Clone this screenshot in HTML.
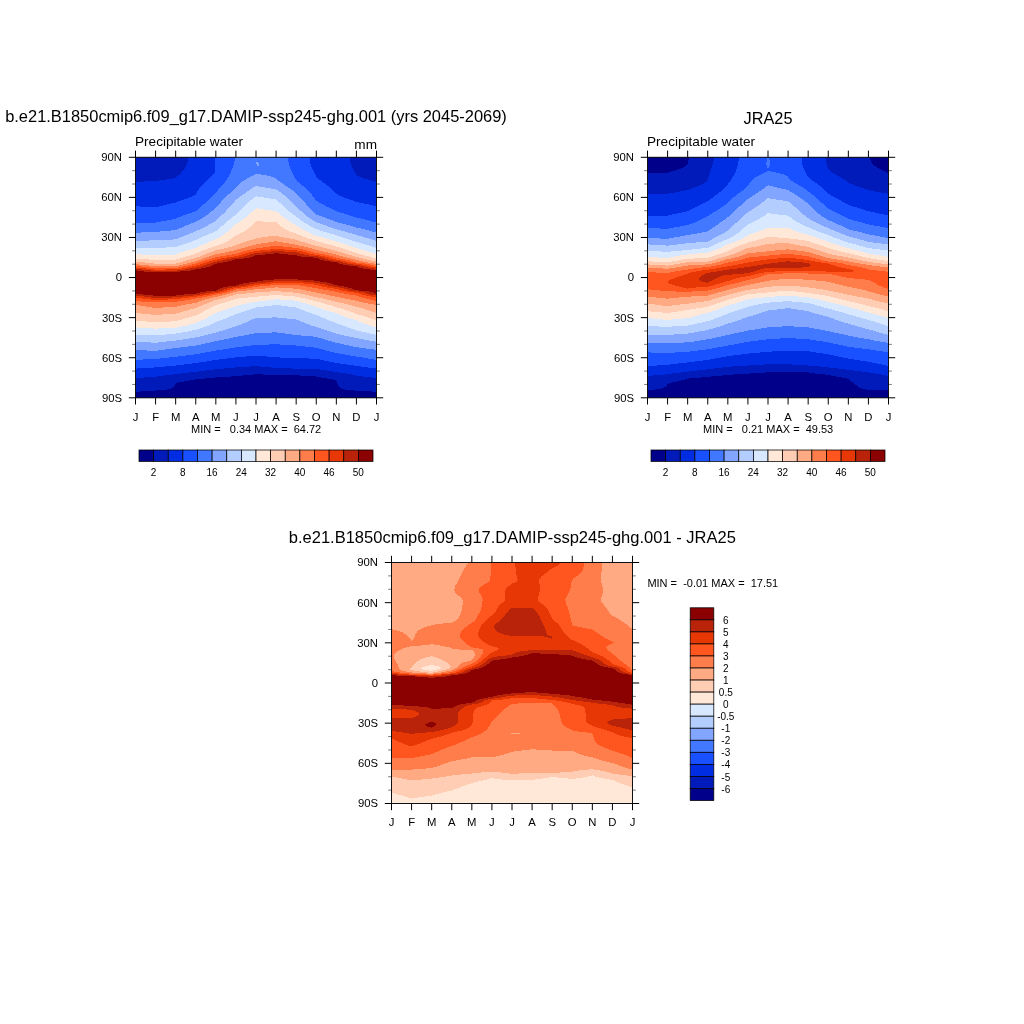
<!DOCTYPE html>
<html><head><meta charset="utf-8"><title>Precipitable water</title>
<style>
html,body{margin:0;padding:0;background:#fff}
svg{display:block}
text{font-family:"Liberation Sans",sans-serif;fill:#000}
.t9{font-size:10px}.t10{font-size:11px}.t10a{font-size:11.3px}.t13{font-size:13.6px}.t14{font-size:16.45px}.t15{font-size:16.3px}.t15b{font-size:16.52px}
</style></head><body>
<svg width="1024" height="1024" viewBox="0 0 1024 1024">
<rect width="1024" height="1024" fill="#fff"/>
<g shape-rendering="crispEdges"><path fill="#00008b" d="M254 374h9v1h-9zM243 375h57v1h-57zM231 376h85v1h-85zM215 377h106v1h-106zM205 378h122v1h-122zM195 379h138v1h-138zM190 380h146v1h-146zM184 381h153v1h-153zM178 382h159v1h-159zM176 383h161v1h-161zM175 384h163v2h-163zM174 386h165v1h-165zM173 387h167v1h-167zM171 388h171v1h-171zM167 389h178v1h-178zM156 390h198v1h-198zM140 391h232v1h-232zM135 392h242v6h-242z"/>
<path fill="#001bb9" d="M135 157h53v5h-53zM350 157h27v6h-27zM135 162h52v3h-52zM351 163h26v3h-26zM135 165h51v2h-51zM352 166h25v2h-25zM135 167h50v2h-50zM135 169h49v1h-49zM353 168h24v2h-24zM135 170h48v1h-48zM135 171h47v1h-47zM354 170h23v2h-23zM355 172h22v1h-22zM135 172h46v2h-46zM135 174h45v1h-45zM356 173h21v2h-21zM135 175h43v1h-43zM357 175h20v1h-20zM135 176h42v1h-42zM359 176h18v1h-18zM135 177h41v1h-41zM362 177h15v1h-15zM135 178h38v1h-38zM364 178h13v1h-13zM135 179h31v1h-31zM368 179h9v1h-9zM135 180h24v1h-24zM371 180h6v1h-6zM135 181h9v1h-9zM375 181h2v1h-2zM250 366h10v1h-10zM235 367h36v1h-36zM224 368h68v1h-68zM214 369h106v1h-106zM206 370h121v1h-121zM198 371h135v1h-135zM189 372h150v1h-150zM181 373h165v1h-165zM173 374h81v1h-81zM263 374h89v1h-89zM164 375h79v1h-79zM300 375h56v1h-56zM157 376h74v1h-74zM316 376h47v1h-47zM144 377h71v1h-71zM321 377h51v1h-51zM135 378h70v1h-70zM327 378h50v1h-50zM135 379h60v1h-60zM333 379h44v1h-44zM135 380h55v1h-55zM336 380h41v1h-41zM135 381h49v1h-49zM135 382h43v1h-43zM135 383h41v1h-41zM337 381h40v3h-40zM135 384h40v2h-40zM338 384h39v2h-39zM135 386h39v1h-39zM339 386h38v1h-38zM135 387h38v1h-38zM340 387h37v1h-37zM135 388h36v1h-36zM342 388h35v1h-35zM135 389h32v1h-32zM345 389h32v1h-32zM135 390h21v1h-21zM354 390h23v1h-23zM135 391h5v1h-5zM372 391h5v1h-5z"/>
<path fill="#002de1" d="M188 157h26v1h-26zM188 158h27v4h-27zM310 157h40v6h-40zM310 163h41v1h-41zM187 162h28v3h-28zM311 164h40v2h-40zM186 165h29v2h-29zM311 166h41v1h-41zM312 167h40v1h-40zM185 167h30v2h-30zM312 168h41v1h-41zM184 169h31v1h-31zM313 169h40v1h-40zM183 170h32v1h-32zM313 170h41v1h-41zM182 171h33v1h-33zM314 171h40v1h-40zM181 172h34v1h-34zM314 172h41v1h-41zM181 173h33v1h-33zM180 174h33v1h-33zM315 173h41v2h-41zM178 175h34v1h-34zM316 175h41v1h-41zM177 176h34v1h-34zM316 176h43v1h-43zM176 177h34v1h-34zM317 177h45v1h-45zM173 178h36v1h-36zM318 178h46v1h-46zM166 179h42v1h-42zM319 179h49v1h-49zM159 180h48v1h-48zM321 180h50v1h-50zM144 181h62v1h-62zM322 181h53v1h-53zM135 182h70v1h-70zM323 182h54v1h-54zM135 183h69v1h-69zM325 183h52v1h-52zM135 184h68v1h-68zM326 184h51v1h-51zM135 185h67v1h-67zM327 185h50v1h-50zM135 186h66v1h-66zM329 186h48v1h-48zM135 187h65v1h-65zM330 187h47v1h-47zM331 188h46v1h-46zM135 188h64v2h-64zM332 189h45v1h-45zM135 190h63v1h-63zM333 190h44v1h-44zM334 191h43v1h-43zM135 191h62v2h-62zM335 192h42v1h-42zM336 193h41v1h-41zM135 193h61v2h-61zM338 194h39v1h-39zM135 195h59v1h-59zM339 195h38v1h-38zM135 196h57v1h-57zM342 196h35v1h-35zM135 197h54v1h-54zM344 197h33v1h-33zM135 198h52v1h-52zM347 198h30v1h-30zM135 199h49v1h-49zM350 199h27v1h-27zM135 200h46v1h-46zM353 200h24v1h-24zM135 201h43v1h-43zM355 201h22v1h-22zM135 202h41v1h-41zM359 202h18v1h-18zM135 203h36v1h-36zM364 203h13v1h-13zM135 204h32v1h-32zM369 204h8v1h-8zM135 205h28v1h-28zM373 205h4v1h-4zM140 206h19v1h-19zM246 356h21v1h-21zM235 357h45v1h-45zM227 358h82v1h-82zM219 359h101v1h-101zM212 360h112v1h-112zM206 361h123v1h-123zM199 362h135v1h-135zM192 363h148v1h-148zM184 364h163v1h-163zM176 365h178v1h-178zM165 366h85v1h-85zM260 366h101v1h-101zM154 367h81v1h-81zM271 367h97v1h-97zM137 368h87v1h-87zM292 368h84v1h-84zM135 369h79v1h-79zM320 369h57v1h-57zM135 370h71v1h-71zM327 370h50v1h-50zM135 371h63v1h-63zM333 371h44v1h-44zM135 372h54v1h-54zM339 372h38v1h-38zM135 373h46v1h-46zM346 373h31v1h-31zM135 374h38v1h-38zM352 374h25v1h-25zM135 375h29v1h-29zM356 375h21v1h-21zM135 376h22v1h-22zM363 376h14v1h-14zM135 377h9v1h-9zM372 377h5v1h-5z"/>
<path fill="#1950ff" d="M214 157h21v1h-21zM215 158h20v3h-20zM288 157h22v5h-22zM289 162h21v2h-21zM215 161h19v4h-19zM289 164h22v2h-22zM290 166h21v1h-21zM215 165h18v3h-18zM290 167h22v2h-22zM215 168h17v2h-17zM291 169h22v2h-22zM215 170h16v3h-16zM292 171h22v2h-22zM214 173h16v1h-16zM213 174h17v1h-17zM293 173h22v2h-22zM212 175h17v1h-17zM211 176h18v1h-18zM294 175h22v2h-22zM210 177h18v1h-18zM295 177h22v1h-22zM209 178h18v1h-18zM295 178h23v1h-23zM208 179h19v1h-19zM296 179h23v1h-23zM207 180h19v1h-19zM297 180h24v1h-24zM206 181h19v1h-19zM297 181h25v1h-25zM205 182h20v1h-20zM299 182h24v1h-24zM204 183h20v1h-20zM300 183h25v1h-25zM203 184h20v1h-20zM301 184h25v1h-25zM202 185h20v1h-20zM302 185h25v1h-25zM201 186h20v1h-20zM304 186h25v1h-25zM200 187h20v1h-20zM305 187h25v1h-25zM199 188h20v1h-20zM306 188h25v1h-25zM199 189h19v1h-19zM307 189h25v1h-25zM198 190h20v1h-20zM308 190h25v1h-25zM197 191h20v1h-20zM309 191h25v1h-25zM197 192h19v1h-19zM310 192h25v1h-25zM196 193h19v1h-19zM311 193h25v1h-25zM196 194h18v1h-18zM312 194h26v1h-26zM194 195h19v1h-19zM312 195h27v1h-27zM192 196h20v1h-20zM313 196h29v1h-29zM189 197h22v1h-22zM314 197h30v1h-30zM187 198h23v1h-23zM315 198h32v1h-32zM184 199h25v1h-25zM315 199h35v1h-35zM181 200h27v1h-27zM316 200h37v1h-37zM178 201h29v1h-29zM318 201h37v1h-37zM176 202h30v1h-30zM319 202h40v1h-40zM171 203h34v1h-34zM321 203h43v1h-43zM167 204h36v1h-36zM323 204h46v1h-46zM163 205h39v1h-39zM325 205h48v1h-48zM135 206h5v1h-5zM159 206h42v1h-42zM326 206h51v1h-51zM135 207h65v1h-65zM329 207h48v1h-48zM135 208h64v1h-64zM331 208h46v1h-46zM135 209h63v1h-63zM333 209h44v1h-44zM135 210h62v1h-62zM335 210h42v1h-42zM135 211h60v1h-60zM337 211h40v1h-40zM135 212h57v1h-57zM340 212h37v1h-37zM135 213h54v1h-54zM344 213h33v1h-33zM135 214h51v1h-51zM347 214h30v1h-30zM135 215h48v1h-48zM350 215h27v1h-27zM135 216h46v1h-46zM353 216h24v1h-24zM135 217h43v1h-43zM356 217h21v1h-21zM135 218h41v1h-41zM361 218h16v1h-16zM135 219h37v1h-37zM365 219h12v1h-12zM135 220h32v1h-32zM369 220h8v1h-8zM135 221h26v1h-26zM372 221h5v1h-5zM135 222h21v1h-21zM376 222h1v1h-1zM269 344h11v1h-11zM251 345h45v1h-45zM243 346h62v1h-62zM235 347h79v1h-79zM229 348h90v1h-90zM223 349h100v1h-100zM216 350h110v1h-110zM211 351h119v1h-119zM205 352h129v1h-129zM200 353h139v1h-139zM194 354h151v1h-151zM186 355h164v1h-164zM178 356h68v1h-68zM267 356h89v1h-89zM169 357h66v1h-66zM280 357h83v1h-83zM160 358h67v1h-67zM309 358h59v1h-59zM143 359h76v1h-76zM320 359h54v1h-54zM135 360h77v1h-77zM324 360h53v1h-53zM135 361h71v1h-71zM329 361h48v1h-48zM135 362h64v1h-64zM334 362h43v1h-43zM135 363h57v1h-57zM340 363h37v1h-37zM135 364h49v1h-49zM347 364h30v1h-30zM135 365h41v1h-41zM354 365h23v1h-23zM135 366h30v1h-30zM361 366h16v1h-16zM135 367h19v1h-19zM368 367h9v1h-9zM135 368h2v1h-2zM376 368h1v1h-1z"/>
<path fill="#4178ff" d="M235 157h53v4h-53zM234 161h54v1h-54zM234 162h55v3h-55zM233 165h56v1h-56zM233 166h57v2h-57zM232 168h58v1h-58zM232 169h59v1h-59zM231 170h60v1h-60zM231 171h61v2h-61zM230 173h63v1h-63zM230 174h25v1h-25zM261 174h32v1h-32zM229 175h24v1h-24zM267 175h27v1h-27zM229 176h22v1h-22zM271 176h23v1h-23zM228 177h21v1h-21zM274 177h21v1h-21zM227 178h20v1h-20zM276 178h19v1h-19zM227 179h19v1h-19zM277 179h19v1h-19zM226 180h18v1h-18zM278 180h19v1h-19zM225 181h17v1h-17zM280 181h17v1h-17zM225 182h16v1h-16zM281 182h18v1h-18zM224 183h16v1h-16zM283 183h17v1h-17zM223 184h16v1h-16zM284 184h17v1h-17zM222 185h16v1h-16zM285 185h17v1h-17zM221 186h16v1h-16zM287 186h17v1h-17zM220 187h16v1h-16zM288 187h17v1h-17zM219 188h16v1h-16zM290 188h16v1h-16zM218 189h16v1h-16zM291 189h16v1h-16zM218 190h15v1h-15zM293 190h15v1h-15zM217 191h15v1h-15zM294 191h15v1h-15zM216 192h15v1h-15zM295 192h15v1h-15zM215 193h15v1h-15zM296 193h15v1h-15zM214 194h14v1h-14zM297 194h15v1h-15zM213 195h14v1h-14zM298 195h14v1h-14zM212 196h14v1h-14zM299 196h14v1h-14zM211 197h14v1h-14zM300 197h14v1h-14zM210 198h14v1h-14zM301 198h14v1h-14zM209 199h14v1h-14zM302 199h13v1h-13zM208 200h14v1h-14zM303 200h13v1h-13zM207 201h14v1h-14zM304 201h14v1h-14zM206 202h15v1h-15zM305 202h14v1h-14zM205 203h15v1h-15zM306 203h15v1h-15zM203 204h16v1h-16zM306 204h17v1h-17zM202 205h16v1h-16zM307 205h18v1h-18zM201 206h16v1h-16zM308 206h18v1h-18zM200 207h16v1h-16zM309 207h20v1h-20zM199 208h16v1h-16zM310 208h21v1h-21zM198 209h16v1h-16zM311 209h22v1h-22zM197 210h16v1h-16zM312 210h23v1h-23zM195 211h16v1h-16zM313 211h24v1h-24zM192 212h18v1h-18zM314 212h26v1h-26zM189 213h20v1h-20zM315 213h29v1h-29zM186 214h22v1h-22zM316 214h31v1h-31zM183 215h23v1h-23zM319 215h31v1h-31zM181 216h24v1h-24zM322 216h31v1h-31zM178 217h25v1h-25zM325 217h31v1h-31zM176 218h26v1h-26zM327 218h34v1h-34zM172 219h28v1h-28zM330 219h35v1h-35zM167 220h31v1h-31zM333 220h36v1h-36zM161 221h35v1h-35zM335 221h37v1h-37zM156 222h38v1h-38zM338 222h38v1h-38zM135 223h56v1h-56zM342 223h35v1h-35zM135 224h54v1h-54zM346 224h31v1h-31zM135 225h51v1h-51zM350 225h27v1h-27zM135 226h49v1h-49zM353 226h24v1h-24zM135 227h47v1h-47zM356 227h21v1h-21zM135 228h44v1h-44zM361 228h16v1h-16zM135 229h42v1h-42zM365 229h12v1h-12zM135 230h36v1h-36zM369 230h8v1h-8zM135 231h25v1h-25zM372 231h5v1h-5zM135 232h6v1h-6zM376 232h1v1h-1zM272 332h5v1h-5zM254 333h31v1h-31zM249 334h43v1h-43zM244 335h57v1h-57zM238 336h75v1h-75zM233 337h85v1h-85zM229 338h93v1h-93zM224 339h101v1h-101zM219 340h109v1h-109zM214 341h118v1h-118zM210 342h125v1h-125zM205 343h135v1h-135zM201 344h68v1h-68zM280 344h64v1h-64zM196 345h55v1h-55zM296 345h53v1h-53zM188 346h55v1h-55zM305 346h48v1h-48zM180 347h55v1h-55zM314 347h45v1h-45zM172 348h57v1h-57zM319 348h47v1h-47zM165 349h58v1h-58zM323 349h51v1h-51zM135 350h12v1h-12zM158 350h58v1h-58zM326 350h51v1h-51zM135 351h76v1h-76zM330 351h47v1h-47zM135 352h70v1h-70zM334 352h43v1h-43zM135 353h65v1h-65zM339 353h38v1h-38zM135 354h59v1h-59zM345 354h32v1h-32zM135 355h51v1h-51zM350 355h27v1h-27zM135 356h43v1h-43zM356 356h21v1h-21zM135 357h34v1h-34zM363 357h14v1h-14zM135 358h25v1h-25zM368 358h9v1h-9zM135 359h8v1h-8zM374 359h3v1h-3z"/>
<path fill="#82a5ff" d="M255 174h6v1h-6zM253 175h14v1h-14zM251 176h20v1h-20zM249 177h25v1h-25zM247 178h29v1h-29zM246 179h31v1h-31zM244 180h34v1h-34zM242 181h38v1h-38zM241 182h40v1h-40zM240 183h43v1h-43zM239 184h45v1h-45zM238 185h47v1h-47zM237 186h18v1h-18zM259 186h28v1h-28zM236 187h17v1h-17zM265 187h23v1h-23zM235 188h17v1h-17zM271 188h19v1h-19zM234 189h16v1h-16zM276 189h15v1h-15zM233 190h16v1h-16zM278 190h15v1h-15zM232 191h15v1h-15zM279 191h15v1h-15zM231 192h15v1h-15zM281 192h14v1h-14zM230 193h15v1h-15zM282 193h14v1h-14zM228 194h15v1h-15zM283 194h14v1h-14zM227 195h15v1h-15zM285 195h13v1h-13zM226 196h14v1h-14zM286 196h13v1h-13zM225 197h14v1h-14zM287 197h13v1h-13zM224 198h14v1h-14zM288 198h13v1h-13zM223 199h13v1h-13zM289 199h13v1h-13zM222 200h13v1h-13zM290 200h13v1h-13zM221 201h14v1h-14zM291 201h13v1h-13zM221 202h13v1h-13zM292 202h13v1h-13zM220 203h13v1h-13zM293 203h13v1h-13zM219 204h13v1h-13zM294 204h12v1h-12zM218 205h13v1h-13zM295 205h12v1h-12zM217 206h13v1h-13zM296 206h12v1h-12zM216 207h13v1h-13zM297 207h12v1h-12zM215 208h13v1h-13zM298 208h12v1h-12zM214 209h13v1h-13zM299 209h12v1h-12zM213 210h13v1h-13zM300 210h12v1h-12zM211 211h15v1h-15zM302 211h11v1h-11zM210 212h15v1h-15zM303 212h11v1h-11zM209 213h15v1h-15zM304 213h11v1h-11zM208 214h14v1h-14zM305 214h11v1h-11zM206 215h15v1h-15zM306 215h13v1h-13zM205 216h15v1h-15zM307 216h15v1h-15zM203 217h16v1h-16zM309 217h16v1h-16zM202 218h16v1h-16zM310 218h17v1h-17zM200 219h17v1h-17zM312 219h18v1h-18zM198 220h18v1h-18zM313 220h20v1h-20zM196 221h19v1h-19zM315 221h20v1h-20zM194 222h19v1h-19zM317 222h21v1h-21zM191 223h20v1h-20zM320 223h22v1h-22zM189 224h20v1h-20zM323 224h23v1h-23zM186 225h22v1h-22zM326 225h24v1h-24zM184 226h22v1h-22zM328 226h25v1h-25zM182 227h22v1h-22zM331 227h25v1h-25zM179 228h23v1h-23zM334 228h27v1h-27zM177 229h23v1h-23zM337 229h28v1h-28zM171 230h26v1h-26zM341 230h28v1h-28zM160 231h35v1h-35zM345 231h27v1h-27zM141 232h52v1h-52zM348 232h28v1h-28zM135 233h55v1h-55zM352 233h25v1h-25zM135 234h53v1h-53zM355 234h22v1h-22zM135 235h50v1h-50zM358 235h19v1h-19zM135 236h48v1h-48zM362 236h15v1h-15zM135 237h45v1h-45zM365 237h12v1h-12zM135 238h43v1h-43zM369 238h8v1h-8zM135 239h38v1h-38zM372 239h5v1h-5zM135 240h14v1h-14zM375 240h2v1h-2zM272 317h5v1h-5zM255 318h32v1h-32zM252 319h44v1h-44zM250 320h49v1h-49zM248 321h53v1h-53zM246 322h58v1h-58zM243 323h63v1h-63zM241 324h68v1h-68zM238 325h73v1h-73zM235 326h80v1h-80zM232 327h86v1h-86zM229 328h92v1h-92zM226 329h98v1h-98zM223 330h104v1h-104zM219 331h111v1h-111zM216 332h56v1h-56zM277 332h56v1h-56zM212 333h42v1h-42zM285 333h51v1h-51zM208 334h41v1h-41zM292 334h48v1h-48zM204 335h40v1h-40zM301 335h43v1h-43zM200 336h38v1h-38zM313 336h36v1h-36zM195 337h38v1h-38zM318 337h36v1h-36zM189 338h40v1h-40zM322 338h37v1h-37zM183 339h41v1h-41zM325 339h39v1h-39zM176 340h43v1h-43zM328 340h41v1h-41zM166 341h48v1h-48zM332 341h43v1h-43zM135 342h16v1h-16zM158 342h52v1h-52zM335 342h42v1h-42zM135 343h70v1h-70zM340 343h37v1h-37zM135 344h66v1h-66zM344 344h33v1h-33zM135 345h61v1h-61zM349 345h28v1h-28zM135 346h53v1h-53zM353 346h24v1h-24zM135 347h45v1h-45zM359 347h18v1h-18zM135 348h37v1h-37zM366 348h11v1h-11zM135 349h30v1h-30zM374 349h3v1h-3zM147 350h11v1h-11z"/>
<path fill="#b4cdff" d="M255 186h4v1h-4zM253 187h12v1h-12zM252 188h19v1h-19zM250 189h26v1h-26zM249 190h29v1h-29zM247 191h32v1h-32zM246 192h35v1h-35zM245 193h37v1h-37zM243 194h40v1h-40zM242 195h43v1h-43zM240 196h16v1h-16zM257 196h29v1h-29zM239 197h15v1h-15zM264 197h23v1h-23zM238 198h15v1h-15zM270 198h18v1h-18zM236 199h16v1h-16zM276 199h13v1h-13zM235 200h15v1h-15zM277 200h13v1h-13zM235 201h14v1h-14zM278 201h13v1h-13zM234 202h14v1h-14zM279 202h13v1h-13zM233 203h14v1h-14zM281 203h12v1h-12zM232 204h14v1h-14zM282 204h12v1h-12zM231 205h14v1h-14zM283 205h12v1h-12zM230 206h14v1h-14zM284 206h12v1h-12zM229 207h14v1h-14zM285 207h12v1h-12zM228 208h14v1h-14zM286 208h12v1h-12zM227 209h14v1h-14zM287 209h12v1h-12zM226 210h14v1h-14zM288 210h12v1h-12zM226 211h13v1h-13zM289 211h13v1h-13zM225 212h13v1h-13zM291 212h12v1h-12zM224 213h13v1h-13zM292 213h12v1h-12zM222 214h14v1h-14zM293 214h12v1h-12zM221 215h14v1h-14zM295 215h11v1h-11zM220 216h13v1h-13zM296 216h11v1h-11zM219 217h13v1h-13zM297 217h12v1h-12zM218 218h13v1h-13zM299 218h11v1h-11zM217 219h13v1h-13zM300 219h12v1h-12zM216 220h12v1h-12zM301 220h12v1h-12zM215 221h12v1h-12zM303 221h12v1h-12zM213 222h13v1h-13zM304 222h13v1h-13zM211 223h14v1h-14zM306 223h14v1h-14zM209 224h15v1h-15zM308 224h15v1h-15zM208 225h15v1h-15zM309 225h17v1h-17zM206 226h15v1h-15zM311 226h17v1h-17zM204 227h16v1h-16zM313 227h18v1h-18zM202 228h17v1h-17zM315 228h19v1h-19zM200 229h18v1h-18zM318 229h19v1h-19zM197 230h20v1h-20zM320 230h21v1h-21zM195 231h20v1h-20zM323 231h22v1h-22zM193 232h20v1h-20zM327 232h21v1h-21zM190 233h20v1h-20zM330 233h22v1h-22zM188 234h20v1h-20zM334 234h21v1h-21zM185 235h21v1h-21zM337 235h21v1h-21zM183 236h20v1h-20zM340 236h22v1h-22zM180 237h21v1h-21zM343 237h22v1h-22zM178 238h21v1h-21zM346 238h23v1h-23zM173 239h24v1h-24zM349 239h23v1h-23zM149 240h45v1h-45zM352 240h23v1h-23zM135 241h57v1h-57zM355 241h22v1h-22zM135 242h54v1h-54zM359 242h18v1h-18zM135 243h51v1h-51zM362 243h15v1h-15zM135 244h48v1h-48zM365 244h12v1h-12zM135 245h45v1h-45zM369 245h8v1h-8zM135 246h42v1h-42zM372 246h5v1h-5zM135 247h31v1h-31zM375 247h2v1h-2zM272 305h9v1h-9zM264 306h24v1h-24zM256 307h40v1h-40zM253 308h46v1h-46zM250 309h51v1h-51zM247 310h57v1h-57zM244 311h62v1h-62zM241 312h68v1h-68zM238 313h74v1h-74zM235 314h80v1h-80zM233 315h85v1h-85zM230 316h90v1h-90zM228 317h44v1h-44zM277 317h45v1h-45zM226 318h29v1h-29zM287 318h38v1h-38zM223 319h29v1h-29zM296 319h31v1h-31zM220 320h30v1h-30zM299 320h30v1h-30zM217 321h31v1h-31zM301 321h31v1h-31zM215 322h31v1h-31zM304 322h31v1h-31zM213 323h30v1h-30zM306 323h31v1h-31zM211 324h30v1h-30zM309 324h31v1h-31zM209 325h29v1h-29zM311 325h32v1h-32zM206 326h29v1h-29zM315 326h31v1h-31zM203 327h29v1h-29zM318 327h30v1h-30zM200 328h29v1h-29zM321 328h30v1h-30zM197 329h29v1h-29zM324 329h30v1h-30zM192 330h31v1h-31zM327 330h30v1h-30zM188 331h31v1h-31zM330 331h31v1h-31zM182 332h34v1h-34zM333 332h33v1h-33zM176 333h36v1h-36zM336 333h34v1h-34zM166 334h42v1h-42zM340 334h35v1h-35zM135 335h69v1h-69zM344 335h33v1h-33zM135 336h65v1h-65zM349 336h28v1h-28zM135 337h60v1h-60zM354 337h23v1h-23zM135 338h54v1h-54zM359 338h18v1h-18zM135 339h48v1h-48zM364 339h13v1h-13zM135 340h41v1h-41zM369 340h8v1h-8zM135 341h31v1h-31zM375 341h2v1h-2zM151 342h7v1h-7z"/>
<path fill="#d7e8ff" d="M256 196h1v1h-1zM254 197h10v1h-10zM253 198h17v1h-17zM252 199h24v1h-24zM250 200h27v1h-27zM249 201h29v1h-29zM248 202h31v1h-31zM247 203h34v1h-34zM246 204h36v1h-36zM245 205h38v1h-38zM244 206h40v1h-40zM243 207h42v1h-42zM242 208h14v1h-14zM258 208h28v1h-28zM241 209h14v1h-14zM264 209h23v1h-23zM240 210h14v1h-14zM271 210h17v1h-17zM239 211h13v1h-13zM276 211h13v1h-13zM238 212h13v1h-13zM278 212h13v1h-13zM237 213h13v1h-13zM279 213h13v1h-13zM236 214h13v1h-13zM280 214h13v1h-13zM235 215h13v1h-13zM281 215h14v1h-14zM233 216h14v1h-14zM283 216h13v1h-13zM232 217h14v1h-14zM284 217h13v1h-13zM231 218h13v1h-13zM285 218h14v1h-14zM230 219h13v1h-13zM287 219h13v1h-13zM228 220h14v1h-14zM288 220h13v1h-13zM227 221h13v1h-13zM290 221h13v1h-13zM226 222h13v1h-13zM291 222h13v1h-13zM225 223h12v1h-12zM293 223h13v1h-13zM224 224h11v1h-11zM295 224h13v1h-13zM223 225h11v1h-11zM296 225h13v1h-13zM221 226h12v1h-12zM298 226h13v1h-13zM220 227h12v1h-12zM300 227h13v1h-13zM219 228h12v1h-12zM301 228h14v1h-14zM218 229h12v1h-12zM303 229h15v1h-15zM217 230h12v1h-12zM305 230h15v1h-15zM215 231h13v1h-13zM307 231h16v1h-16zM213 232h13v1h-13zM309 232h18v1h-18zM210 233h15v1h-15zM311 233h19v1h-19zM208 234h16v1h-16zM313 234h21v1h-21zM206 235h16v1h-16zM315 235h22v1h-22zM203 236h18v1h-18zM319 236h21v1h-21zM201 237h18v1h-18zM323 237h20v1h-20zM199 238h18v1h-18zM326 238h20v1h-20zM197 239h18v1h-18zM330 239h19v1h-19zM194 240h19v1h-19zM333 240h19v1h-19zM192 241h18v1h-18zM336 241h19v1h-19zM189 242h19v1h-19zM340 242h19v1h-19zM186 243h20v1h-20zM343 243h19v1h-19zM183 244h21v1h-21zM346 244h19v1h-19zM180 245h21v1h-21zM349 245h20v1h-20zM177 246h22v1h-22zM352 246h20v1h-20zM166 247h31v1h-31zM355 247h20v1h-20zM135 248h59v1h-59zM358 248h19v1h-19zM135 249h56v1h-56zM361 249h16v1h-16zM135 250h52v1h-52zM365 250h12v1h-12zM135 251h49v1h-49zM368 251h9v1h-9zM135 252h46v1h-46zM371 252h6v1h-6zM135 253h43v1h-43zM375 253h2v1h-2zM142 254h34v1h-34zM274 299h6v1h-6zM266 300h28v1h-28zM258 301h41v1h-41zM251 302h51v1h-51zM246 303h60v1h-60zM242 304h67v1h-67zM238 305h34v1h-34zM281 305h31v1h-31zM235 306h29v1h-29zM288 306h27v1h-27zM232 307h24v1h-24zM296 307h22v1h-22zM229 308h24v1h-24zM299 308h22v1h-22zM226 309h24v1h-24zM301 309h23v1h-23zM223 310h24v1h-24zM304 310h23v1h-23zM220 311h24v1h-24zM306 311h24v1h-24zM217 312h24v1h-24zM309 312h25v1h-25zM215 313h23v1h-23zM312 313h25v1h-25zM213 314h22v1h-22zM315 314h24v1h-24zM211 315h22v1h-22zM318 315h24v1h-24zM209 316h21v1h-21zM320 316h24v1h-24zM208 317h20v1h-20zM322 317h25v1h-25zM206 318h20v1h-20zM325 318h25v1h-25zM204 319h19v1h-19zM327 319h27v1h-27zM201 320h19v1h-19zM329 320h28v1h-28zM199 321h18v1h-18zM332 321h27v1h-27zM197 322h18v1h-18zM335 322h27v1h-27zM194 323h19v1h-19zM337 323h27v1h-27zM190 324h21v1h-21zM340 324h27v1h-27zM186 325h23v1h-23zM343 325h27v1h-27zM181 326h25v1h-25zM346 326h27v1h-27zM135 327h2v1h-2zM177 327h26v1h-26zM348 327h29v1h-29zM135 328h18v1h-18zM158 328h42v1h-42zM351 328h26v1h-26zM135 329h62v1h-62zM354 329h23v1h-23zM135 330h57v1h-57zM357 330h20v1h-20zM135 331h53v1h-53zM361 331h16v1h-16zM135 332h47v1h-47zM366 332h11v1h-11zM135 333h41v1h-41zM370 333h7v1h-7zM135 334h31v1h-31zM375 334h2v1h-2z"/>
<path fill="#ffe8d7" d="M256 208h2v1h-2zM255 209h9v1h-9zM254 210h17v1h-17zM252 211h24v1h-24zM251 212h27v1h-27zM250 213h29v1h-29zM249 214h31v1h-31zM248 215h33v1h-33zM247 216h36v1h-36zM246 217h38v1h-38zM244 218h41v1h-41zM243 219h44v1h-44zM242 220h46v1h-46zM240 221h16v1h-16zM263 221h27v1h-27zM239 222h16v1h-16zM277 222h14v1h-14zM237 223h17v1h-17zM278 223h15v1h-15zM235 224h18v1h-18zM279 224h16v1h-16zM234 225h18v1h-18zM280 225h16v1h-16zM233 226h18v1h-18zM281 226h17v1h-17zM232 227h18v1h-18zM283 227h17v1h-17zM231 228h17v1h-17zM284 228h17v1h-17zM230 229h17v1h-17zM286 229h17v1h-17zM229 230h17v1h-17zM288 230h17v1h-17zM228 231h16v1h-16zM290 231h17v1h-17zM226 232h16v1h-16zM293 232h16v1h-16zM225 233h15v1h-15zM296 233h15v1h-15zM224 234h14v1h-14zM298 234h15v1h-15zM222 235h14v1h-14zM301 235h14v1h-14zM221 236h13v1h-13zM303 236h16v1h-16zM219 237h14v1h-14zM306 237h17v1h-17zM217 238h15v1h-15zM308 238h18v1h-18zM215 239h15v1h-15zM312 239h18v1h-18zM213 240h16v1h-16zM315 240h18v1h-18zM210 241h17v1h-17zM318 241h18v1h-18zM208 242h17v1h-17zM322 242h18v1h-18zM206 243h17v1h-17zM325 243h18v1h-18zM204 244h16v1h-16zM329 244h17v1h-17zM201 245h16v1h-16zM333 245h16v1h-16zM199 246h15v1h-15zM336 246h16v1h-16zM197 247h14v1h-14zM340 247h15v1h-15zM194 248h14v1h-14zM343 248h15v1h-15zM191 249h15v1h-15zM346 249h15v1h-15zM187 250h16v1h-16zM349 250h16v1h-16zM184 251h17v1h-17zM352 251h16v1h-16zM181 252h18v1h-18zM355 252h16v1h-16zM178 253h18v1h-18zM358 253h17v1h-17zM135 254h7v1h-7zM176 254h17v1h-17zM362 254h15v1h-15zM135 255h55v1h-55zM365 255h12v1h-12zM135 256h51v1h-51zM369 256h8v1h-8zM135 257h48v1h-48zM372 257h5v1h-5zM135 258h45v1h-45zM376 258h1v1h-1zM149 259h27v1h-27zM269 295h14v1h-14zM258 296h37v1h-37zM248 297h52v1h-52zM238 298h67v1h-67zM234 299h40v1h-40zM280 299h29v1h-29zM231 300h35v1h-35zM294 300h19v1h-19zM228 301h30v1h-30zM299 301h18v1h-18zM225 302h26v1h-26zM302 302h19v1h-19zM221 303h25v1h-25zM306 303h18v1h-18zM218 304h24v1h-24zM309 304h18v1h-18zM215 305h23v1h-23zM312 305h19v1h-19zM213 306h22v1h-22zM315 306h19v1h-19zM211 307h21v1h-21zM318 307h19v1h-19zM209 308h20v1h-20zM321 308h20v1h-20zM207 309h19v1h-19zM324 309h20v1h-20zM205 310h18v1h-18zM327 310h20v1h-20zM203 311h17v1h-17zM330 311h20v1h-20zM202 312h15v1h-15zM334 312h19v1h-19zM200 313h15v1h-15zM337 313h18v1h-18zM198 314h15v1h-15zM339 314h19v1h-19zM196 315h15v1h-15zM342 315h20v1h-20zM192 316h17v1h-17zM344 316h21v1h-21zM189 317h19v1h-19zM347 317h21v1h-21zM185 318h21v1h-21zM350 318h21v1h-21zM182 319h22v1h-22zM354 319h20v1h-20zM178 320h23v1h-23zM357 320h20v1h-20zM135 321h11v1h-11zM170 321h29v1h-29zM359 321h18v1h-18zM135 322h62v1h-62zM362 322h15v1h-15zM135 323h59v1h-59zM364 323h13v1h-13zM135 324h55v1h-55zM367 324h10v1h-10zM135 325h51v1h-51zM370 325h7v1h-7zM135 326h46v1h-46zM373 326h4v1h-4zM137 327h40v1h-40zM153 328h5v1h-5z"/>
<path fill="#ffcdb4" d="M256 221h7v1h-7zM255 222h22v1h-22zM254 223h24v1h-24zM253 224h26v1h-26zM252 225h28v1h-28zM251 226h30v1h-30zM250 227h33v1h-33zM248 228h36v1h-36zM247 229h39v1h-39zM246 230h42v1h-42zM244 231h46v1h-46zM242 232h51v1h-51zM240 233h56v1h-56zM238 234h60v1h-60zM236 235h65v1h-65zM234 236h34v1h-34zM279 236h24v1h-24zM233 237h28v1h-28zM284 237h22v1h-22zM232 238h24v1h-24zM290 238h18v1h-18zM230 239h23v1h-23zM295 239h17v1h-17zM229 240h20v1h-20zM298 240h17v1h-17zM227 241h19v1h-19zM301 241h17v1h-17zM225 242h18v1h-18zM305 242h17v1h-17zM223 243h17v1h-17zM308 243h17v1h-17zM220 244h17v1h-17zM311 244h18v1h-18zM217 245h18v1h-18zM315 245h18v1h-18zM214 246h18v1h-18zM319 246h17v1h-17zM211 247h17v1h-17zM323 247h17v1h-17zM208 248h16v1h-16zM327 248h16v1h-16zM206 249h14v1h-14zM331 249h15v1h-15zM203 250h12v1h-12zM335 250h14v1h-14zM201 251h12v1h-12zM338 251h14v1h-14zM199 252h11v1h-11zM342 252h13v1h-13zM196 253h11v1h-11zM345 253h13v1h-13zM193 254h12v1h-12zM348 254h14v1h-14zM190 255h12v1h-12zM352 255h13v1h-13zM186 256h14v1h-14zM355 256h14v1h-14zM183 257h14v1h-14zM359 257h13v1h-13zM180 258h14v1h-14zM363 258h13v1h-13zM135 259h14v1h-14zM176 259h14v1h-14zM367 259h10v1h-10zM135 260h51v1h-51zM371 260h6v1h-6zM135 261h48v1h-48zM376 261h1v1h-1zM145 262h35v1h-35zM154 263h22v1h-22zM270 291h11v1h-11zM255 292h38v1h-38zM246 293h54v1h-54zM236 294h69v1h-69zM233 295h36v1h-36zM283 295h26v1h-26zM229 296h29v1h-29zM295 296h18v1h-18zM226 297h22v1h-22zM300 297h18v1h-18zM222 298h16v1h-16zM305 298h18v1h-18zM218 299h16v1h-16zM309 299h18v1h-18zM214 300h17v1h-17zM313 300h18v1h-18zM212 301h16v1h-16zM317 301h18v1h-18zM209 302h16v1h-16zM321 302h18v1h-18zM207 303h14v1h-14zM324 303h20v1h-20zM204 304h14v1h-14zM327 304h21v1h-21zM202 305h13v1h-13zM331 305h21v1h-21zM199 306h14v1h-14zM334 306h21v1h-21zM197 307h14v1h-14zM337 307h22v1h-22zM194 308h15v1h-15zM341 308h22v1h-22zM190 309h17v1h-17zM344 309h22v1h-22zM187 310h18v1h-18zM347 310h22v1h-22zM183 311h20v1h-20zM350 311h22v1h-22zM180 312h22v1h-22zM353 312h22v1h-22zM135 313h6v1h-6zM176 313h24v1h-24zM355 313h22v1h-22zM135 314h16v1h-16zM162 314h36v1h-36zM358 314h19v1h-19zM135 315h61v1h-61zM362 315h15v1h-15zM135 316h57v1h-57zM365 316h12v1h-12zM135 317h54v1h-54zM368 317h9v1h-9zM135 318h50v1h-50zM371 318h6v1h-6zM135 319h47v1h-47zM374 319h3v1h-3zM135 320h43v1h-43zM146 321h24v1h-24z"/>
<path fill="#ffaa82" d="M268 236h11v1h-11zM261 237h23v1h-23zM256 238h34v1h-34zM253 239h42v1h-42zM249 240h49v1h-49zM246 241h28v1h-28zM277 241h24v1h-24zM243 242h25v1h-25zM283 242h22v1h-22zM240 243h21v1h-21zM289 243h19v1h-19zM237 244h19v1h-19zM295 244h16v1h-16zM235 245h17v1h-17zM299 245h16v1h-16zM232 246h16v1h-16zM304 246h15v1h-15zM228 247h17v1h-17zM308 247h15v1h-15zM224 248h17v1h-17zM312 248h15v1h-15zM220 249h17v1h-17zM315 249h16v1h-16zM215 250h19v1h-19zM319 250h16v1h-16zM213 251h16v1h-16zM323 251h15v1h-15zM210 252h15v1h-15zM328 252h14v1h-14zM207 253h13v1h-13zM332 253h13v1h-13zM205 254h10v1h-10zM336 254h12v1h-12zM202 255h10v1h-10zM339 255h13v1h-13zM200 256h9v1h-9zM343 256h12v1h-12zM197 257h9v1h-9zM347 257h12v1h-12zM194 258h9v1h-9zM351 258h12v1h-12zM190 259h11v1h-11zM355 259h12v1h-12zM186 260h12v1h-12zM359 260h12v1h-12zM183 261h12v1h-12zM363 261h13v1h-13zM135 262h10v1h-10zM180 262h11v1h-11zM368 262h9v1h-9zM135 263h19v1h-19zM176 263h11v1h-11zM374 263h3v1h-3zM139 264h44v1h-44zM149 265h30v1h-30zM275 287h3v1h-3zM265 288h28v1h-28zM254 289h47v1h-47zM247 290h59v1h-59zM237 291h33v1h-33zM281 291h30v1h-30zM233 292h22v1h-22zM293 292h23v1h-23zM230 293h16v1h-16zM300 293h21v1h-21zM226 294h10v1h-10zM305 294h21v1h-21zM222 295h11v1h-11zM309 295h21v1h-21zM218 296h11v1h-11zM313 296h22v1h-22zM213 297h13v1h-13zM318 297h22v1h-22zM209 298h13v1h-13zM323 298h22v1h-22zM205 299h13v1h-13zM327 299h23v1h-23zM202 300h12v1h-12zM331 300h24v1h-24zM199 301h13v1h-13zM335 301h24v1h-24zM197 302h12v1h-12zM339 302h24v1h-24zM192 303h15v1h-15zM344 303h24v1h-24zM186 304h18v1h-18zM348 304h26v1h-26zM135 305h5v1h-5zM181 305h21v1h-21zM352 305h25v1h-25zM135 306h11v1h-11zM177 306h22v1h-22zM355 306h22v1h-22zM135 307h17v1h-17zM163 307h34v1h-34zM359 307h18v1h-18zM135 308h59v1h-59zM363 308h14v1h-14zM135 309h55v1h-55zM366 309h11v1h-11zM135 310h52v1h-52zM369 310h8v1h-8zM135 311h48v1h-48zM372 311h5v1h-5zM135 312h45v1h-45zM375 312h2v1h-2zM141 313h35v1h-35zM151 314h11v1h-11z"/>
<path fill="#ff7d4b" d="M274 241h3v1h-3zM268 242h15v1h-15zM261 243h28v1h-28zM256 244h39v1h-39zM252 245h47v1h-47zM248 246h22v1h-22zM283 246h21v1h-21zM245 247h18v1h-18zM292 247h16v1h-16zM241 248h15v1h-15zM299 248h13v1h-13zM237 249h14v1h-14zM303 249h12v1h-12zM234 250h13v1h-13zM307 250h12v1h-12zM229 251h14v1h-14zM311 251h12v1h-12zM225 252h15v1h-15zM314 252h14v1h-14zM220 253h17v1h-17zM319 253h13v1h-13zM215 254h17v1h-17zM325 254h11v1h-11zM212 255h14v1h-14zM329 255h10v1h-10zM209 256h11v1h-11zM333 256h10v1h-10zM206 257h9v1h-9zM336 257h11v1h-11zM203 258h9v1h-9zM340 258h11v1h-11zM201 259h8v1h-8zM345 259h10v1h-10zM198 260h7v1h-7zM350 260h9v1h-9zM195 261h7v1h-7zM353 261h10v1h-10zM191 262h8v1h-8zM356 262h12v1h-12zM187 263h9v1h-9zM365 263h9v1h-9zM135 264h4v1h-4zM183 264h9v1h-9zM370 264h7v1h-7zM135 265h14v1h-14zM179 265h9v1h-9zM374 265h3v1h-3zM141 266h42v1h-42zM150 267h28v1h-28zM270 285h30v1h-30zM259 286h47v1h-47zM252 287h23v1h-23zM278 287h34v1h-34zM246 288h19v1h-19zM293 288h25v1h-25zM236 289h18v1h-18zM301 289h22v1h-22zM233 290h14v1h-14zM306 290h23v1h-23zM230 291h7v1h-7zM311 291h24v1h-24zM227 292h6v1h-6zM316 292h23v1h-23zM222 293h8v1h-8zM321 293h23v1h-23zM217 294h9v1h-9zM326 294h23v1h-23zM212 295h10v1h-10zM330 295h26v1h-26zM207 296h11v1h-11zM335 296h24v1h-24zM202 297h11v1h-11zM340 297h22v1h-22zM196 298h13v1h-13zM345 298h21v1h-21zM191 299h14v1h-14zM350 299h20v1h-20zM185 300h17v1h-17zM355 300h19v1h-19zM135 301h6v1h-6zM178 301h21v1h-21zM359 301h18v1h-18zM135 302h62v1h-62zM363 302h14v1h-14zM135 303h57v1h-57zM368 303h9v1h-9zM135 304h51v1h-51zM374 304h3v1h-3zM140 305h41v1h-41zM146 306h31v1h-31zM152 307h11v1h-11z"/>
<path fill="#ff551e" d="M270 246h13v1h-13zM263 247h29v1h-29zM256 248h43v1h-43zM251 249h19v1h-19zM285 249h18v1h-18zM247 250h13v1h-13zM297 250h10v1h-10zM243 251h11v1h-11zM302 251h9v1h-9zM240 252h9v1h-9zM306 252h8v1h-8zM237 253h8v1h-8zM309 253h10v1h-10zM232 254h10v1h-10zM314 254h11v1h-11zM226 255h13v1h-13zM320 255h9v1h-9zM220 256h14v1h-14zM325 256h8v1h-8zM215 257h12v1h-12zM329 257h7v1h-7zM212 258h9v1h-9zM332 258h8v1h-8zM209 259h8v1h-8zM336 259h9v1h-9zM205 260h8v1h-8zM342 260h8v1h-8zM202 261h7v1h-7zM346 261h7v1h-7zM199 262h7v1h-7zM350 262h6v1h-6zM196 263h7v1h-7zM356 263h9v1h-9zM192 264h8v1h-8zM362 264h8v1h-8zM188 265h8v1h-8zM367 265h7v1h-7zM135 266h6v1h-6zM183 266h9v1h-9zM371 266h6v1h-6zM136 267h14v1h-14zM178 267h9v1h-9zM146 268h36v1h-36zM154 269h11v1h-11zM271 283h33v1h-33zM260 284h54v1h-54zM253 285h17v1h-17zM300 285h19v1h-19zM248 286h11v1h-11zM306 286h16v1h-16zM241 287h11v1h-11zM312 287h15v1h-15zM234 288h12v1h-12zM318 288h16v1h-16zM230 289h6v1h-6zM323 289h16v1h-16zM227 290h6v1h-6zM329 290h13v1h-13zM224 291h6v1h-6zM335 291h12v1h-12zM220 292h7v1h-7zM339 292h15v1h-15zM214 293h8v1h-8zM344 293h15v1h-15zM209 294h8v1h-8zM349 294h13v1h-13zM203 295h9v1h-9zM356 295h10v1h-10zM197 296h10v1h-10zM359 296h12v1h-12zM135 297h1v1h-1zM189 297h13v1h-13zM362 297h15v1h-15zM135 298h7v1h-7zM181 298h15v1h-15zM366 298h11v1h-11zM135 299h16v1h-16zM168 299h23v1h-23zM370 299h7v1h-7zM135 300h50v1h-50zM374 300h3v1h-3zM141 301h37v1h-37z"/>
<path fill="#e63705" d="M270 249h15v1h-15zM260 250h37v1h-37zM254 251h17v1h-17zM284 251h18v1h-18zM249 252h13v1h-13zM297 252h9v1h-9zM245 253h9v1h-9zM300 253h9v1h-9zM242 254h8v1h-8zM304 254h10v1h-10zM239 255h8v1h-8zM309 255h11v1h-11zM234 256h10v1h-10zM318 256h7v1h-7zM227 257h12v1h-12zM322 257h7v1h-7zM221 258h10v1h-10zM325 258h7v1h-7zM217 259h9v1h-9zM328 259h8v1h-8zM213 260h9v1h-9zM333 260h9v1h-9zM209 261h8v1h-8zM340 261h6v1h-6zM206 262h7v1h-7zM343 262h7v1h-7zM203 263h7v1h-7zM347 263h9v1h-9zM200 264h7v1h-7zM353 264h9v1h-9zM196 265h8v1h-8zM360 265h7v1h-7zM192 266h9v1h-9zM364 266h7v1h-7zM135 267h1v1h-1zM187 267h9v1h-9zM368 267h9v1h-9zM135 268h11v1h-11zM182 268h8v1h-8zM374 268h3v1h-3zM142 269h12v1h-12zM165 269h20v1h-20zM151 270h26v1h-26zM273 281h30v1h-30zM265 282h49v1h-49zM254 283h17v1h-17zM304 283h16v1h-16zM249 284h11v1h-11zM314 284h11v1h-11zM245 285h8v1h-8zM319 285h9v1h-9zM239 286h9v1h-9zM322 286h11v1h-11zM232 287h9v1h-9zM327 287h12v1h-12zM227 288h7v1h-7zM334 288h10v1h-10zM224 289h6v1h-6zM339 289h8v1h-8zM222 290h5v1h-5zM342 290h8v1h-8zM218 291h6v1h-6zM347 291h11v1h-11zM211 292h9v1h-9zM354 292h10v1h-10zM205 293h9v1h-9zM359 293h8v1h-8zM200 294h9v1h-9zM362 294h8v1h-8zM193 295h10v1h-10zM366 295h11v1h-11zM135 296h9v1h-9zM183 296h14v1h-14zM371 296h6v1h-6zM136 297h15v1h-15zM172 297h17v1h-17zM142 298h39v1h-39zM151 299h17v1h-17z"/>
<path fill="#b9230a" d="M271 251h13v1h-13zM262 252h35v1h-35zM254 253h20v1h-20zM279 253h21v1h-21zM250 254h15v1h-15zM288 254h16v1h-16zM247 255h8v1h-8zM297 255h12v1h-12zM244 256h9v1h-9zM301 256h17v1h-17zM239 257h11v1h-11zM313 257h9v1h-9zM231 258h13v1h-13zM318 258h7v1h-7zM226 259h9v1h-9zM320 259h8v1h-8zM222 260h10v1h-10zM324 260h9v1h-9zM217 261h11v1h-11zM330 261h10v1h-10zM213 262h10v1h-10zM337 262h6v1h-6zM210 263h7v1h-7zM339 263h8v1h-8zM207 264h7v1h-7zM343 264h10v1h-10zM204 265h8v1h-8zM349 265h11v1h-11zM201 266h9v1h-9zM357 266h7v1h-7zM196 267h10v1h-10zM359 267h9v1h-9zM190 268h11v1h-11zM363 268h11v1h-11zM135 269h7v1h-7zM185 269h10v1h-10zM370 269h7v1h-7zM137 270h14v1h-14zM177 270h14v1h-14zM144 271h36v1h-36zM274 279h24v1h-24zM263 280h51v1h-51zM257 281h16v1h-16zM303 281h17v1h-17zM249 282h16v1h-16zM314 282h13v1h-13zM243 283h11v1h-11zM320 283h11v1h-11zM239 284h10v1h-10zM325 284h9v1h-9zM236 285h9v1h-9zM328 285h10v1h-10zM228 286h11v1h-11zM333 286h11v1h-11zM223 287h9v1h-9zM339 287h9v1h-9zM220 288h7v1h-7zM344 288h8v1h-8zM218 289h6v1h-6zM347 289h7v1h-7zM216 290h6v1h-6zM350 290h9v1h-9zM206 291h12v1h-12zM358 291h11v1h-11zM200 292h11v1h-11zM364 292h9v1h-9zM196 293h9v1h-9zM367 293h8v1h-8zM135 294h8v1h-8zM184 294h16v1h-16zM370 294h7v1h-7zM135 295h18v1h-18zM176 295h17v1h-17zM144 296h39v1h-39zM151 297h21v1h-21z"/>
<path fill="#8b0000" d="M274 253h5v1h-5zM265 254h23v1h-23zM255 255h42v1h-42zM253 256h48v1h-48zM250 257h63v1h-63zM244 258h74v1h-74zM235 259h85v1h-85zM232 260h92v1h-92zM228 261h102v1h-102zM223 262h114v1h-114zM217 263h122v1h-122zM214 264h129v1h-129zM212 265h137v1h-137zM210 266h147v1h-147zM206 267h153v1h-153zM201 268h162v1h-162zM195 269h175v1h-175zM135 270h2v1h-2zM191 270h186v1h-186zM135 271h9v1h-9zM180 271h197v1h-197zM135 272h242v7h-242zM135 279h139v1h-139zM298 279h79v1h-79zM135 280h128v1h-128zM314 280h63v1h-63zM135 281h122v1h-122zM320 281h57v1h-57zM135 282h114v1h-114zM327 282h50v1h-50zM135 283h108v1h-108zM331 283h46v1h-46zM135 284h104v1h-104zM334 284h43v1h-43zM135 285h101v1h-101zM338 285h39v1h-39zM135 286h93v1h-93zM344 286h33v1h-33zM135 287h88v1h-88zM348 287h29v1h-29zM135 288h85v1h-85zM352 288h25v1h-25zM135 289h83v1h-83zM354 289h23v1h-23zM135 290h81v1h-81zM359 290h18v1h-18zM135 291h71v1h-71zM369 291h8v1h-8zM135 292h65v1h-65zM373 292h4v1h-4zM135 293h61v1h-61zM375 293h2v1h-2zM143 294h41v1h-41zM153 295h23v1h-23z"/></g>
<g shape-rendering="crispEdges"><path fill="#00008b" d="M647 157h42v3h-42zM870 157h19v3h-19zM871 160h18v2h-18zM647 160h41v4h-41zM872 162h17v2h-17zM647 164h40v1h-40zM873 164h16v1h-16zM647 165h39v1h-39zM874 165h15v1h-15zM647 166h38v1h-38zM876 166h13v1h-13zM647 167h36v1h-36zM877 167h12v1h-12zM647 168h34v1h-34zM879 168h10v1h-10zM647 169h31v1h-31zM881 169h8v1h-8zM647 170h28v1h-28zM883 170h6v1h-6zM647 171h24v1h-24zM885 171h4v1h-4zM647 172h21v1h-21zM887 172h2v1h-2zM766 372h43v1h-43zM750 373h65v1h-65zM734 374h91v1h-91zM722 375h109v1h-109zM711 376h125v1h-125zM701 377h141v1h-141zM689 378h158v1h-158zM685 379h164v1h-164zM681 380h169v1h-169zM677 381h174v1h-174zM672 382h181v1h-181zM669 383h185v1h-185zM667 384h188v1h-188zM667 385h190v1h-190zM666 386h192v1h-192zM664 387h195v1h-195zM662 388h200v1h-200zM655 389h211v1h-211zM647 390h242v8h-242z"/>
<path fill="#001bb9" d="M825 157h45v2h-45zM689 157h25v3h-25zM826 159h44v1h-44zM688 160h26v1h-26zM826 160h45v2h-45zM688 161h25v3h-25zM826 162h46v2h-46zM687 164h26v1h-26zM827 164h46v1h-46zM686 165h26v1h-26zM827 165h47v1h-47zM685 166h27v1h-27zM827 166h49v1h-49zM683 167h29v1h-29zM828 167h49v1h-49zM681 168h30v1h-30zM828 168h51v1h-51zM678 169h33v1h-33zM829 169h52v1h-52zM675 170h36v1h-36zM830 170h53v1h-53zM671 171h39v1h-39zM831 171h54v1h-54zM668 172h42v1h-42zM832 172h55v1h-55zM647 173h63v1h-63zM834 173h55v1h-55zM836 174h53v1h-53zM837 175h52v1h-52zM647 174h62v3h-62zM839 176h50v1h-50zM841 177h48v1h-48zM842 178h47v1h-47zM647 177h61v3h-61zM844 179h45v1h-45zM846 180h43v1h-43zM647 180h60v2h-60zM847 181h42v1h-42zM647 182h58v1h-58zM848 182h41v1h-41zM647 183h57v1h-57zM850 183h39v1h-39zM647 184h55v1h-55zM853 184h36v1h-36zM647 185h52v1h-52zM855 185h34v1h-34zM647 186h50v1h-50zM858 186h31v1h-31zM647 187h47v1h-47zM861 187h28v1h-28zM647 188h45v1h-45zM864 188h25v1h-25zM647 189h42v1h-42zM867 189h22v1h-22zM647 190h38v1h-38zM871 190h18v1h-18zM647 191h33v1h-33zM875 191h14v1h-14zM647 192h28v1h-28zM881 192h8v1h-8zM647 193h22v1h-22zM887 193h2v1h-2zM764 364h28v1h-28zM748 365h60v1h-60zM732 366h88v1h-88zM722 367h107v1h-107zM714 368h124v1h-124zM706 369h140v1h-140zM697 370h157v1h-157zM689 371h173v1h-173zM681 372h85v1h-85zM809 372h60v1h-60zM672 373h78v1h-78zM815 373h60v1h-60zM665 374h69v1h-69zM825 374h56v1h-56zM653 375h69v1h-69zM831 375h55v1h-55zM647 376h64v1h-64zM836 376h53v1h-53zM647 377h54v1h-54zM842 377h47v1h-47zM647 378h42v1h-42zM847 378h42v1h-42zM647 379h38v1h-38zM849 379h40v1h-40zM647 380h34v1h-34zM850 380h39v1h-39zM647 381h30v1h-30zM851 381h38v1h-38zM647 382h25v1h-25zM853 382h36v1h-36zM647 383h22v1h-22zM854 383h35v1h-35zM855 384h34v1h-34zM647 384h20v2h-20zM857 385h32v1h-32zM647 386h19v1h-19zM858 386h31v1h-31zM647 387h17v1h-17zM859 387h30v1h-30zM647 388h15v1h-15zM862 388h27v1h-27zM647 389h8v1h-8zM866 389h23v1h-23z"/>
<path fill="#002de1" d="M801 157h24v1h-24zM802 158h23v1h-23zM714 157h25v4h-25zM802 159h24v5h-24zM713 161h25v4h-25zM802 164h25v1h-25zM712 165h26v1h-26zM803 165h24v2h-24zM712 166h25v2h-25zM803 167h25v1h-25zM711 168h26v1h-26zM804 168h24v1h-24zM804 169h25v1h-25zM711 169h25v2h-25zM805 170h25v1h-25zM710 171h26v1h-26zM805 171h26v1h-26zM806 172h26v1h-26zM710 172h25v2h-25zM806 173h28v1h-28zM807 174h29v1h-29zM709 174h25v2h-25zM807 175h30v1h-30zM709 176h24v1h-24zM808 176h31v1h-31zM809 177h32v1h-32zM708 177h24v2h-24zM810 178h32v1h-32zM708 179h23v1h-23zM811 179h33v1h-33zM707 180h24v1h-24zM812 180h34v1h-34zM707 181h23v1h-23zM814 181h33v1h-33zM705 182h24v1h-24zM815 182h33v1h-33zM704 183h24v1h-24zM817 183h33v1h-33zM702 184h26v1h-26zM818 184h35v1h-35zM699 185h28v1h-28zM819 185h36v1h-36zM697 186h29v1h-29zM821 186h37v1h-37zM694 187h31v1h-31zM822 187h39v1h-39zM692 188h32v1h-32zM823 188h41v1h-41zM689 189h34v1h-34zM824 189h43v1h-43zM685 190h37v1h-37zM825 190h46v1h-46zM680 191h41v1h-41zM826 191h49v1h-49zM675 192h44v1h-44zM827 192h54v1h-54zM669 193h49v1h-49zM828 193h59v1h-59zM647 194h70v1h-70zM830 194h59v1h-59zM647 195h68v1h-68zM831 195h58v1h-58zM647 196h67v1h-67zM833 196h56v1h-56zM647 197h66v1h-66zM835 197h54v1h-54zM647 198h64v1h-64zM837 198h52v1h-52zM647 199h63v1h-63zM839 199h50v1h-50zM647 200h62v1h-62zM841 200h48v1h-48zM647 201h60v1h-60zM842 201h47v1h-47zM647 202h58v1h-58zM844 202h45v1h-45zM647 203h56v1h-56zM846 203h43v1h-43zM647 204h54v1h-54zM848 204h41v1h-41zM647 205h52v1h-52zM850 205h39v1h-39zM647 206h50v1h-50zM853 206h36v1h-36zM647 207h48v1h-48zM857 207h32v1h-32zM647 208h46v1h-46zM860 208h29v1h-29zM647 209h44v1h-44zM863 209h26v1h-26zM647 210h42v1h-42zM866 210h23v1h-23zM647 211h39v1h-39zM870 211h19v1h-19zM647 212h35v1h-35zM875 212h14v1h-14zM647 213h30v1h-30zM879 213h10v1h-10zM647 214h25v1h-25zM884 214h5v1h-5zM647 215h21v1h-21zM888 215h1v1h-1zM772 351h38v1h-38zM760 352h56v1h-56zM749 353h74v1h-74zM741 354h88v1h-88zM733 355h101v1h-101zM726 356h112v1h-112zM721 357h122v1h-122zM715 358h133v1h-133zM710 359h144v1h-144zM703 360h157v1h-157zM695 361h172v1h-172zM687 362h185v1h-185zM678 363h199v1h-199zM670 364h94v1h-94zM792 364h90v1h-90zM657 365h91v1h-91zM808 365h78v1h-78zM647 366h85v1h-85zM820 366h69v1h-69zM647 367h75v1h-75zM829 367h60v1h-60zM647 368h67v1h-67zM838 368h51v1h-51zM647 369h59v1h-59zM846 369h43v1h-43zM647 370h50v1h-50zM854 370h35v1h-35zM647 371h42v1h-42zM862 371h27v1h-27zM647 372h34v1h-34zM869 372h20v1h-20zM647 373h25v1h-25zM875 373h14v1h-14zM647 374h18v1h-18zM881 374h8v1h-8zM647 375h6v1h-6zM886 375h3v1h-3z"/>
<path fill="#1950ff" d="M739 157h62v1h-62zM739 158h63v3h-63zM738 161h64v4h-64zM738 165h65v1h-65zM737 166h66v2h-66zM737 168h67v1h-67zM736 169h68v1h-68zM736 170h69v1h-69zM736 171h31v1h-31zM771 171h34v1h-34zM735 172h30v1h-30zM776 172h30v1h-30zM735 173h28v1h-28zM780 173h26v1h-26zM734 174h27v1h-27zM784 174h23v1h-23zM734 175h25v1h-25zM786 175h21v1h-21zM733 176h24v1h-24zM788 176h20v1h-20zM732 177h23v1h-23zM788 177h21v1h-21zM732 178h22v1h-22zM789 178h21v1h-21zM731 179h22v1h-22zM790 179h21v1h-21zM731 180h21v1h-21zM791 180h21v1h-21zM730 181h21v1h-21zM793 181h21v1h-21zM729 182h21v1h-21zM794 182h21v1h-21zM796 183h21v1h-21zM728 183h21v2h-21zM798 184h20v1h-20zM727 185h21v1h-21zM799 185h20v1h-20zM726 186h21v1h-21zM801 186h20v1h-20zM725 187h21v1h-21zM803 187h19v1h-19zM724 188h21v1h-21zM804 188h19v1h-19zM723 189h21v1h-21zM806 189h18v1h-18zM722 190h21v1h-21zM807 190h18v1h-18zM721 191h20v1h-20zM808 191h18v1h-18zM719 192h21v1h-21zM810 192h17v1h-17zM718 193h20v1h-20zM811 193h17v1h-17zM717 194h20v1h-20zM812 194h18v1h-18zM715 195h21v1h-21zM814 195h17v1h-17zM714 196h21v1h-21zM815 196h18v1h-18zM713 197h20v1h-20zM816 197h19v1h-19zM711 198h21v1h-21zM817 198h20v1h-20zM710 199h21v1h-21zM818 199h21v1h-21zM709 200h21v1h-21zM819 200h22v1h-22zM707 201h22v1h-22zM820 201h22v1h-22zM705 202h23v1h-23zM821 202h23v1h-23zM703 203h24v1h-24zM823 203h23v1h-23zM701 204h25v1h-25zM824 204h24v1h-24zM699 205h25v1h-25zM825 205h25v1h-25zM697 206h26v1h-26zM826 206h27v1h-27zM695 207h26v1h-26zM827 207h30v1h-30zM693 208h27v1h-27zM828 208h32v1h-32zM691 209h27v1h-27zM830 209h33v1h-33zM689 210h28v1h-28zM832 210h34v1h-34zM686 211h29v1h-29zM834 211h36v1h-36zM682 212h31v1h-31zM836 212h39v1h-39zM677 213h35v1h-35zM838 213h41v1h-41zM672 214h38v1h-38zM840 214h44v1h-44zM668 215h41v1h-41zM842 215h46v1h-46zM647 216h60v1h-60zM844 216h45v1h-45zM647 217h58v1h-58zM846 217h43v1h-43zM647 218h56v1h-56zM848 218h41v1h-41zM647 219h54v1h-54zM851 219h38v1h-38zM647 220h52v1h-52zM854 220h35v1h-35zM647 221h50v1h-50zM858 221h31v1h-31zM647 222h48v1h-48zM862 222h27v1h-27zM647 223h45v1h-45zM865 223h24v1h-24zM647 224h42v1h-42zM869 224h20v1h-20zM647 225h38v1h-38zM874 225h15v1h-15zM647 226h33v1h-33zM880 226h9v1h-9zM647 227h27v1h-27zM885 227h4v1h-4zM660 228h9v1h-9zM780 338h16v1h-16zM766 339h44v1h-44zM758 340h58v1h-58zM750 341h73v1h-73zM744 342h85v1h-85zM739 343h94v1h-94zM734 344h104v1h-104zM728 345h115v1h-115zM723 346h124v1h-124zM717 347h137v1h-137zM712 348h150v1h-150zM706 349h164v1h-164zM698 350h178v1h-178zM690 351h82v1h-82zM810 351h73v1h-73zM647 352h4v1h-4zM675 352h85v1h-85zM816 352h73v1h-73zM647 353h102v1h-102zM823 353h66v1h-66zM647 354h94v1h-94zM829 354h60v1h-60zM647 355h86v1h-86zM834 355h55v1h-55zM647 356h79v1h-79zM838 356h51v1h-51zM647 357h74v1h-74zM843 357h46v1h-46zM647 358h68v1h-68zM848 358h41v1h-41zM647 359h63v1h-63zM854 359h35v1h-35zM647 360h56v1h-56zM860 360h29v1h-29zM647 361h48v1h-48zM867 361h22v1h-22zM647 362h40v1h-40zM872 362h17v1h-17zM647 363h31v1h-31zM877 363h12v1h-12zM647 364h23v1h-23zM882 364h7v1h-7zM647 365h10v1h-10zM886 365h3v1h-3z"/>
<path fill="#4178ff" d="M767 171h4v1h-4zM765 172h11v1h-11zM763 173h17v1h-17zM761 174h23v1h-23zM759 175h27v1h-27zM757 176h31v1h-31zM755 177h33v1h-33zM754 178h35v1h-35zM753 179h37v1h-37zM752 180h39v1h-39zM751 181h42v1h-42zM750 182h44v1h-44zM749 183h47v1h-47zM749 184h49v1h-49zM748 185h20v1h-20zM769 185h30v1h-30zM747 186h19v1h-19zM773 186h28v1h-28zM746 187h19v1h-19zM777 187h26v1h-26zM745 188h19v1h-19zM781 188h23v1h-23zM744 189h18v1h-18zM786 189h20v1h-20zM743 190h18v1h-18zM789 190h18v1h-18zM741 191h18v1h-18zM790 191h18v1h-18zM740 192h18v1h-18zM792 192h18v1h-18zM738 193h18v1h-18zM794 193h17v1h-17zM737 194h18v1h-18zM795 194h17v1h-17zM736 195h17v1h-17zM797 195h17v1h-17zM735 196h17v1h-17zM798 196h17v1h-17zM733 197h17v1h-17zM800 197h16v1h-16zM732 198h17v1h-17zM801 198h16v1h-16zM731 199h16v1h-16zM803 199h15v1h-15zM730 200h16v1h-16zM804 200h15v1h-15zM729 201h16v1h-16zM805 201h15v1h-15zM728 202h16v1h-16zM807 202h14v1h-14zM727 203h16v1h-16zM808 203h15v1h-15zM726 204h16v1h-16zM809 204h15v1h-15zM724 205h17v1h-17zM810 205h15v1h-15zM723 206h16v1h-16zM811 206h15v1h-15zM721 207h17v1h-17zM812 207h15v1h-15zM720 208h17v1h-17zM813 208h15v1h-15zM718 209h18v1h-18zM814 209h16v1h-16zM717 210h18v1h-18zM815 210h17v1h-17zM715 211h19v1h-19zM816 211h18v1h-18zM713 212h20v1h-20zM817 212h19v1h-19zM712 213h20v1h-20zM818 213h20v1h-20zM710 214h21v1h-21zM820 214h20v1h-20zM709 215h21v1h-21zM821 215h21v1h-21zM707 216h22v1h-22zM822 216h22v1h-22zM705 217h22v1h-22zM824 217h22v1h-22zM703 218h23v1h-23zM826 218h22v1h-22zM701 219h24v1h-24zM827 219h24v1h-24zM699 220h24v1h-24zM829 220h25v1h-25zM697 221h25v1h-25zM832 221h26v1h-26zM695 222h25v1h-25zM834 222h28v1h-28zM692 223h27v1h-27zM836 223h29v1h-29zM689 224h29v1h-29zM838 224h31v1h-31zM685 225h31v1h-31zM841 225h33v1h-33zM680 226h35v1h-35zM843 226h37v1h-37zM674 227h39v1h-39zM845 227h40v1h-40zM647 228h13v1h-13zM669 228h43v1h-43zM847 228h42v1h-42zM647 229h63v1h-63zM849 229h40v1h-40zM647 230h62v1h-62zM853 230h36v1h-36zM647 231h60v1h-60zM858 231h31v1h-31zM647 232h55v1h-55zM862 232h27v1h-27zM647 233h50v1h-50zM865 233h24v1h-24zM647 234h44v1h-44zM869 234h20v1h-20zM647 235h38v1h-38zM875 235h14v1h-14zM647 236h33v1h-33zM880 236h9v1h-9zM647 237h27v1h-27zM885 237h4v1h-4zM660 238h9v1h-9zM782 326h12v1h-12zM767 327h42v1h-42zM761 328h53v1h-53zM755 329h65v1h-65zM748 330h77v1h-77zM744 331h86v1h-86zM739 332h95v1h-95zM734 333h105v1h-105zM730 334h114v1h-114zM725 335h123v1h-123zM721 336h132v1h-132zM716 337h142v1h-142zM712 338h68v1h-68zM796 338h68v1h-68zM706 339h60v1h-60zM810 339h60v1h-60zM700 340h58v1h-58zM816 340h58v1h-58zM694 341h56v1h-56zM823 341h57v1h-57zM684 342h60v1h-60zM829 342h57v1h-57zM647 343h92v1h-92zM833 343h56v1h-56zM647 344h87v1h-87zM838 344h51v1h-51zM647 345h81v1h-81zM843 345h46v1h-46zM647 346h76v1h-76zM847 346h42v1h-42zM647 347h70v1h-70zM854 347h35v1h-35zM647 348h65v1h-65zM862 348h27v1h-27zM647 349h59v1h-59zM870 349h19v1h-19zM647 350h51v1h-51zM876 350h13v1h-13zM647 351h43v1h-43zM883 351h6v1h-6zM651 352h24v1h-24z"/>
<path fill="#82a5ff" d="M768 185h1v1h-1zM766 186h7v1h-7zM765 187h12v1h-12zM764 188h17v1h-17zM762 189h24v1h-24zM761 190h28v1h-28zM759 191h31v1h-31zM758 192h34v1h-34zM756 193h38v1h-38zM755 194h40v1h-40zM753 195h44v1h-44zM752 196h46v1h-46zM750 197h50v1h-50zM749 198h18v1h-18zM770 198h31v1h-31zM747 199h19v1h-19zM776 199h27v1h-27zM746 200h19v1h-19zM783 200h21v1h-21zM745 201h19v1h-19zM788 201h17v1h-17zM744 202h18v1h-18zM790 202h17v1h-17zM743 203h18v1h-18zM791 203h17v1h-17zM742 204h18v1h-18zM792 204h17v1h-17zM741 205h17v1h-17zM793 205h17v1h-17zM739 206h18v1h-18zM794 206h17v1h-17zM738 207h17v1h-17zM796 207h16v1h-16zM737 208h17v1h-17zM797 208h16v1h-16zM736 209h16v1h-16zM798 209h16v1h-16zM735 210h16v1h-16zM799 210h16v1h-16zM734 211h15v1h-15zM800 211h16v1h-16zM733 212h15v1h-15zM801 212h16v1h-16zM732 213h14v1h-14zM802 213h16v1h-16zM731 214h14v1h-14zM803 214h17v1h-17zM730 215h14v1h-14zM805 215h16v1h-16zM729 216h14v1h-14zM806 216h16v1h-16zM727 217h15v1h-15zM807 217h17v1h-17zM726 218h15v1h-15zM809 218h17v1h-17zM725 219h15v1h-15zM810 219h17v1h-17zM723 220h16v1h-16zM812 220h17v1h-17zM722 221h16v1h-16zM814 221h18v1h-18zM720 222h17v1h-17zM816 222h18v1h-18zM719 223h16v1h-16zM818 223h18v1h-18zM718 224h16v1h-16zM820 224h18v1h-18zM716 225h17v1h-17zM822 225h19v1h-19zM715 226h17v1h-17zM824 226h19v1h-19zM713 227h18v1h-18zM827 227h18v1h-18zM712 228h18v1h-18zM829 228h18v1h-18zM710 229h19v1h-19zM831 229h18v1h-18zM709 230h19v1h-19zM834 230h19v1h-19zM707 231h19v1h-19zM836 231h22v1h-22zM702 232h23v1h-23zM839 232h23v1h-23zM697 233h26v1h-26zM841 233h24v1h-24zM691 234h30v1h-30zM844 234h25v1h-25zM685 235h34v1h-34zM846 235h29v1h-29zM680 236h37v1h-37zM849 236h31v1h-31zM674 237h41v1h-41zM853 237h32v1h-32zM647 238h13v1h-13zM669 238h44v1h-44zM857 238h32v1h-32zM647 239h65v1h-65zM860 239h29v1h-29zM647 240h63v1h-63zM864 240h25v1h-25zM647 241h61v1h-61zM867 241h22v1h-22zM647 242h49v1h-49zM873 242h16v1h-16zM647 243h38v1h-38zM881 243h8v1h-8zM650 244h27v1h-27zM666 245h3v1h-3zM785 308h6v1h-6zM777 309h20v1h-20zM768 310h36v1h-36zM765 311h44v1h-44zM762 312h50v1h-50zM759 313h56v1h-56zM756 314h63v1h-63zM753 315h70v1h-70zM749 316h78v1h-78zM746 317h84v1h-84zM743 318h90v1h-90zM741 319h94v1h-94zM738 320h100v1h-100zM735 321h106v1h-106zM732 322h112v1h-112zM728 323h120v1h-120zM725 324h126v1h-126zM723 325h132v1h-132zM720 326h62v1h-62zM794 326h64v1h-64zM716 327h51v1h-51zM809 327h53v1h-53zM713 328h48v1h-48zM814 328h51v1h-51zM709 329h46v1h-46zM820 329h49v1h-49zM705 330h43v1h-43zM825 330h48v1h-48zM699 331h45v1h-45zM830 331h46v1h-46zM694 332h45v1h-45zM834 332h45v1h-45zM688 333h46v1h-46zM839 333h44v1h-44zM674 334h56v1h-56zM844 334h43v1h-43zM647 335h78v1h-78zM848 335h41v1h-41zM647 336h74v1h-74zM853 336h36v1h-36zM647 337h69v1h-69zM858 337h31v1h-31zM647 338h65v1h-65zM864 338h25v1h-25zM647 339h59v1h-59zM870 339h19v1h-19zM647 340h53v1h-53zM874 340h15v1h-15zM647 341h47v1h-47zM880 341h9v1h-9zM647 342h37v1h-37zM886 342h3v1h-3z"/>
<path fill="#b4cdff" d="M767 198h3v1h-3zM766 199h10v1h-10zM765 200h18v1h-18zM764 201h24v1h-24zM762 202h28v1h-28zM761 203h30v1h-30zM760 204h32v1h-32zM758 205h35v1h-35zM757 206h37v1h-37zM755 207h41v1h-41zM754 208h43v1h-43zM752 209h46v1h-46zM751 210h48v1h-48zM749 211h51v1h-51zM748 212h53v1h-53zM746 213h21v1h-21zM771 213h31v1h-31zM745 214h21v1h-21zM778 214h25v1h-25zM744 215h21v1h-21zM787 215h18v1h-18zM743 216h20v1h-20zM789 216h17v1h-17zM742 217h19v1h-19zM791 217h16v1h-16zM741 218h19v1h-19zM792 218h17v1h-17zM740 219h18v1h-18zM793 219h17v1h-17zM739 220h17v1h-17zM795 220h17v1h-17zM738 221h16v1h-16zM796 221h18v1h-18zM737 222h15v1h-15zM798 222h18v1h-18zM735 223h15v1h-15zM800 223h18v1h-18zM734 224h14v1h-14zM802 224h18v1h-18zM733 225h14v1h-14zM804 225h18v1h-18zM732 226h14v1h-14zM806 226h18v1h-18zM731 227h13v1h-13zM809 227h18v1h-18zM730 228h13v1h-13zM811 228h18v1h-18zM729 229h13v1h-13zM813 229h18v1h-18zM728 230h13v1h-13zM816 230h18v1h-18zM726 231h14v1h-14zM818 231h18v1h-18zM725 232h14v1h-14zM821 232h18v1h-18zM723 233h14v1h-14zM824 233h17v1h-17zM721 234h15v1h-15zM827 234h17v1h-17zM719 235h15v1h-15zM829 235h17v1h-17zM717 236h16v1h-16zM832 236h17v1h-17zM715 237h16v1h-16zM834 237h19v1h-19zM713 238h16v1h-16zM837 238h20v1h-20zM712 239h15v1h-15zM840 239h20v1h-20zM710 240h14v1h-14zM842 240h22v1h-22zM708 241h14v1h-14zM845 241h22v1h-22zM696 242h23v1h-23zM848 242h25v1h-25zM685 243h32v1h-32zM852 243h29v1h-29zM647 244h3v1h-3zM677 244h38v1h-38zM856 244h33v1h-33zM647 245h19v1h-19zM669 245h44v1h-44zM859 245h30v1h-30zM647 246h64v1h-64zM863 246h26v1h-26zM647 247h62v1h-62zM866 247h23v1h-23zM647 248h54v1h-54zM872 248h17v1h-17zM647 249h45v1h-45zM880 249h9v1h-9zM647 250h35v1h-35zM888 250h1v1h-1zM661 251h10v1h-10zM783 301h9v1h-9zM770 302h33v1h-33zM763 303h47v1h-47zM758 304h56v1h-56zM753 305h64v1h-64zM749 306h72v1h-72zM746 307h78v1h-78zM743 308h42v1h-42zM791 308h37v1h-37zM740 309h37v1h-37zM797 309h35v1h-35zM737 310h31v1h-31zM804 310h31v1h-31zM734 311h31v1h-31zM809 311h30v1h-30zM731 312h31v1h-31zM812 312h31v1h-31zM728 313h31v1h-31zM815 313h31v1h-31zM726 314h30v1h-30zM819 314h30v1h-30zM723 315h30v1h-30zM823 315h30v1h-30zM721 316h28v1h-28zM827 316h29v1h-29zM718 317h28v1h-28zM830 317h30v1h-30zM715 318h28v1h-28zM833 318h30v1h-30zM713 319h28v1h-28zM835 319h32v1h-32zM710 320h28v1h-28zM838 320h32v1h-32zM706 321h29v1h-29zM841 321h33v1h-33zM702 322h30v1h-30zM844 322h33v1h-33zM697 323h31v1h-31zM848 323h32v1h-32zM693 324h32v1h-32zM851 324h32v1h-32zM688 325h35v1h-35zM855 325h31v1h-31zM647 326h12v1h-12zM672 326h48v1h-48zM858 326h31v1h-31zM647 327h69v1h-69zM862 327h27v1h-27zM647 328h66v1h-66zM865 328h24v1h-24zM647 329h62v1h-62zM869 329h20v1h-20zM647 330h58v1h-58zM873 330h16v1h-16zM647 331h52v1h-52zM876 331h13v1h-13zM647 332h47v1h-47zM879 332h10v1h-10zM647 333h41v1h-41zM883 333h6v1h-6zM647 334h27v1h-27zM887 334h2v1h-2z"/>
<path fill="#d7e8ff" d="M767 213h4v1h-4zM766 214h12v1h-12zM765 215h22v1h-22zM763 216h26v1h-26zM761 217h30v1h-30zM760 218h32v1h-32zM758 219h35v1h-35zM756 220h39v1h-39zM754 221h42v1h-42zM752 222h46v1h-46zM750 223h50v1h-50zM748 224h54v1h-54zM747 225h57v1h-57zM746 226h60v1h-60zM744 227h65v1h-65zM743 228h23v1h-23zM790 228h21v1h-21zM742 229h22v1h-22zM792 229h21v1h-21zM741 230h20v1h-20zM794 230h22v1h-22zM740 231h18v1h-18zM797 231h21v1h-21zM739 232h17v1h-17zM799 232h22v1h-22zM737 233h16v1h-16zM803 233h21v1h-21zM736 234h14v1h-14zM807 234h20v1h-20zM734 235h14v1h-14zM810 235h19v1h-19zM733 236h13v1h-13zM813 236h19v1h-19zM731 237h13v1h-13zM816 237h18v1h-18zM729 238h14v1h-14zM819 238h18v1h-18zM727 239h14v1h-14zM822 239h18v1h-18zM724 240h14v1h-14zM825 240h17v1h-17zM722 241h14v1h-14zM827 241h18v1h-18zM719 242h14v1h-14zM830 242h18v1h-18zM717 243h13v1h-13zM833 243h19v1h-19zM715 244h12v1h-12zM836 244h20v1h-20zM713 245h12v1h-12zM839 245h20v1h-20zM711 246h12v1h-12zM842 246h21v1h-21zM709 247h13v1h-13zM846 247h20v1h-20zM701 248h18v1h-18zM850 248h22v1h-22zM692 249h25v1h-25zM853 249h27v1h-27zM682 250h32v1h-32zM857 250h31v1h-31zM647 251h14v1h-14zM671 251h40v1h-40zM861 251h28v1h-28zM647 252h61v1h-61zM864 252h25v1h-25zM647 253h51v1h-51zM868 253h21v1h-21zM647 254h40v1h-40zM874 254h15v1h-15zM647 255h33v1h-33zM881 255h8v1h-8zM647 256h28v1h-28zM886 256h3v1h-3zM658 257h12v1h-12zM775 296h23v1h-23zM763 297h46v1h-46zM754 298h60v1h-60zM747 299h72v1h-72zM744 300h79v1h-79zM741 301h42v1h-42zM792 301h35v1h-35zM738 302h32v1h-32zM803 302h28v1h-28zM735 303h28v1h-28zM810 303h25v1h-25zM731 304h27v1h-27zM814 304h25v1h-25zM728 305h25v1h-25zM817 305h26v1h-26zM725 306h24v1h-24zM821 306h26v1h-26zM723 307h23v1h-23zM824 307h27v1h-27zM720 308h23v1h-23zM828 308h26v1h-26zM718 309h22v1h-22zM832 309h26v1h-26zM715 310h22v1h-22zM835 310h26v1h-26zM712 311h22v1h-22zM839 311h26v1h-26zM709 312h22v1h-22zM843 312h26v1h-26zM705 313h23v1h-23zM846 313h26v1h-26zM701 314h25v1h-25zM849 314h27v1h-27zM697 315h26v1h-26zM853 315h27v1h-27zM694 316h27v1h-27zM856 316h27v1h-27zM690 317h28v1h-28zM860 317h27v1h-27zM647 318h6v1h-6zM683 318h32v1h-32zM863 318h26v1h-26zM647 319h16v1h-16zM672 319h41v1h-41zM867 319h22v1h-22zM647 320h63v1h-63zM870 320h19v1h-19zM647 321h59v1h-59zM874 321h15v1h-15zM647 322h55v1h-55zM877 322h12v1h-12zM647 323h50v1h-50zM880 323h9v1h-9zM647 324h46v1h-46zM883 324h6v1h-6zM647 325h41v1h-41zM886 325h3v1h-3zM659 326h13v1h-13z"/>
<path fill="#ffe8d7" d="M766 228h24v1h-24zM764 229h28v1h-28zM761 230h33v1h-33zM758 231h39v1h-39zM756 232h43v1h-43zM753 233h50v1h-50zM750 234h57v1h-57zM748 235h62v1h-62zM746 236h67v1h-67zM744 237h22v1h-22zM778 237h38v1h-38zM743 238h20v1h-20zM790 238h29v1h-29zM741 239h18v1h-18zM798 239h24v1h-24zM738 240h18v1h-18zM805 240h20v1h-20zM736 241h16v1h-16zM810 241h17v1h-17zM733 242h15v1h-15zM812 242h18v1h-18zM730 243h16v1h-16zM815 243h18v1h-18zM727 244h16v1h-16zM818 244h18v1h-18zM725 245h15v1h-15zM821 245h18v1h-18zM723 246h14v1h-14zM824 246h18v1h-18zM722 247h13v1h-13zM827 247h19v1h-19zM719 248h14v1h-14zM830 248h20v1h-20zM717 249h14v1h-14zM833 249h20v1h-20zM714 250h15v1h-15zM837 250h20v1h-20zM711 251h16v1h-16zM841 251h20v1h-20zM708 252h16v1h-16zM845 252h19v1h-19zM698 253h23v1h-23zM850 253h18v1h-18zM687 254h31v1h-31zM854 254h20v1h-20zM680 255h35v1h-35zM858 255h23v1h-23zM675 256h37v1h-37zM862 256h24v1h-24zM647 257h11v1h-11zM670 257h39v1h-39zM866 257h23v1h-23zM647 258h47v1h-47zM871 258h18v1h-18zM647 259h36v1h-36zM877 259h12v1h-12zM647 260h31v1h-31zM884 260h5v1h-5zM652 261h20v1h-20zM777 291h19v1h-19zM767 292h37v1h-37zM756 293h56v1h-56zM747 294h72v1h-72zM743 295h82v1h-82zM740 296h35v1h-35zM798 296h32v1h-32zM736 297h27v1h-27zM809 297h25v1h-25zM733 298h21v1h-21zM814 298h24v1h-24zM729 299h18v1h-18zM819 299h23v1h-23zM726 300h18v1h-18zM823 300h23v1h-23zM723 301h18v1h-18zM827 301h23v1h-23zM720 302h18v1h-18zM831 302h24v1h-24zM717 303h18v1h-18zM835 303h24v1h-24zM714 304h17v1h-17zM839 304h24v1h-24zM711 305h17v1h-17zM843 305h23v1h-23zM708 306h17v1h-17zM847 306h23v1h-23zM703 307h20v1h-20zM851 307h24v1h-24zM696 308h24v1h-24zM854 308h25v1h-25zM690 309h28v1h-28zM858 309h25v1h-25zM684 310h31v1h-31zM861 310h25v1h-25zM647 311h4v1h-4zM678 311h34v1h-34zM865 311h24v1h-24zM647 312h15v1h-15zM671 312h38v1h-38zM869 312h20v1h-20zM647 313h58v1h-58zM872 313h17v1h-17zM647 314h54v1h-54zM876 314h13v1h-13zM647 315h50v1h-50zM880 315h9v1h-9zM647 316h47v1h-47zM883 316h6v1h-6zM647 317h43v1h-43zM887 317h2v1h-2zM653 318h30v1h-30zM663 319h9v1h-9z"/>
<path fill="#ffcdb4" d="M766 237h12v1h-12zM763 238h27v1h-27zM759 239h39v1h-39zM756 240h49v1h-49zM752 241h58v1h-58zM748 242h64v1h-64zM746 243h29v1h-29zM790 243h25v1h-25zM743 244h22v1h-22zM795 244h23v1h-23zM740 245h21v1h-21zM800 245h21v1h-21zM737 246h20v1h-20zM806 246h18v1h-18zM735 247h16v1h-16zM810 247h17v1h-17zM733 248h13v1h-13zM813 248h17v1h-17zM731 249h13v1h-13zM816 249h17v1h-17zM729 250h13v1h-13zM819 250h18v1h-18zM727 251h13v1h-13zM822 251h19v1h-19zM724 252h13v1h-13zM825 252h20v1h-20zM721 253h14v1h-14zM828 253h22v1h-22zM718 254h14v1h-14zM832 254h22v1h-22zM715 255h14v1h-14zM837 255h21v1h-21zM712 256h14v1h-14zM843 256h19v1h-19zM709 257h13v1h-13zM848 257h18v1h-18zM694 258h24v1h-24zM853 258h18v1h-18zM683 259h32v1h-32zM857 259h20v1h-20zM678 260h34v1h-34zM862 260h22v1h-22zM647 261h5v1h-5zM672 261h36v1h-36zM867 261h22v1h-22zM647 262h39v1h-39zM873 262h16v1h-16zM647 263h33v1h-33zM881 263h8v1h-8zM649 264h25v1h-25zM666 265h2v1h-2zM772 286h28v1h-28zM764 287h45v1h-45zM758 288h58v1h-58zM751 289h72v1h-72zM745 290h83v1h-83zM741 291h36v1h-36zM796 291h37v1h-37zM737 292h30v1h-30zM804 292h34v1h-34zM733 293h23v1h-23zM812 293h31v1h-31zM729 294h18v1h-18zM819 294h28v1h-28zM726 295h17v1h-17zM825 295h27v1h-27zM722 296h18v1h-18zM830 296h27v1h-27zM719 297h17v1h-17zM834 297h29v1h-29zM715 298h18v1h-18zM838 298h30v1h-30zM712 299h17v1h-17zM842 299h30v1h-30zM710 300h16v1h-16zM846 300h29v1h-29zM704 301h19v1h-19zM850 301h29v1h-29zM696 302h24v1h-24zM855 302h29v1h-29zM689 303h28v1h-28zM859 303h29v1h-29zM647 304h8v1h-8zM680 304h34v1h-34zM863 304h26v1h-26zM647 305h15v1h-15zM672 305h39v1h-39zM866 305h23v1h-23zM647 306h61v1h-61zM870 306h19v1h-19zM647 307h56v1h-56zM875 307h14v1h-14zM647 308h49v1h-49zM879 308h10v1h-10zM647 309h43v1h-43zM883 309h6v1h-6zM647 310h37v1h-37zM886 310h3v1h-3zM651 311h27v1h-27zM662 312h9v1h-9z"/>
<path fill="#ffaa82" d="M775 243h15v1h-15zM765 244h30v1h-30zM761 245h39v1h-39zM757 246h49v1h-49zM751 247h59v1h-59zM746 248h67v1h-67zM744 249h42v1h-42zM789 249h27v1h-27zM742 250h33v1h-33zM797 250h22v1h-22zM740 251h26v1h-26zM805 251h17v1h-17zM737 252h19v1h-19zM810 252h15v1h-15zM735 253h12v1h-12zM813 253h15v1h-15zM732 254h13v1h-13zM816 254h16v1h-16zM729 255h13v1h-13zM820 255h17v1h-17zM726 256h13v1h-13zM823 256h20v1h-20zM722 257h13v1h-13zM826 257h22v1h-22zM718 258h13v1h-13zM831 258h22v1h-22zM715 259h11v1h-11zM837 259h20v1h-20zM712 260h11v1h-11zM843 260h19v1h-19zM708 261h12v1h-12zM849 261h18v1h-18zM686 262h30v1h-30zM854 262h19v1h-19zM680 263h32v1h-32zM860 263h21v1h-21zM647 264h2v1h-2zM674 264h31v1h-31zM866 264h23v1h-23zM647 265h19v1h-19zM668 265h20v1h-20zM872 265h17v1h-17zM647 266h35v1h-35zM880 266h9v1h-9zM648 267h28v1h-28zM663 268h6v1h-6zM779 279h24v1h-24zM770 280h46v1h-46zM765 281h61v1h-61zM760 282h71v1h-71zM755 283h80v1h-80zM750 284h89v1h-89zM745 285h98v1h-98zM741 286h31v1h-31zM800 286h47v1h-47zM737 287h27v1h-27zM809 287h43v1h-43zM733 288h25v1h-25zM816 288h41v1h-41zM729 289h22v1h-22zM823 289h39v1h-39zM726 290h19v1h-19zM828 290h38v1h-38zM722 291h19v1h-19zM833 291h36v1h-36zM718 292h19v1h-19zM838 292h35v1h-35zM715 293h18v1h-18zM843 293h33v1h-33zM711 294h18v1h-18zM847 294h33v1h-33zM708 295h18v1h-18zM852 295h32v1h-32zM691 296h31v1h-31zM857 296h31v1h-31zM647 297h9v1h-9zM679 297h40v1h-40zM863 297h26v1h-26zM647 298h19v1h-19zM669 298h46v1h-46zM868 298h21v1h-21zM647 299h65v1h-65zM872 299h17v1h-17zM647 300h63v1h-63zM875 300h14v1h-14zM647 301h57v1h-57zM879 301h10v1h-10zM647 302h49v1h-49zM884 302h5v1h-5zM647 303h42v1h-42zM888 303h1v1h-1zM655 304h25v1h-25zM662 305h10v1h-10z"/>
<path fill="#ff7d4b" d="M786 249h3v1h-3zM775 250h22v1h-22zM766 251h39v1h-39zM756 252h54v1h-54zM747 253h66v1h-66zM745 254h35v1h-35zM794 254h22v1h-22zM742 255h27v1h-27zM802 255h18v1h-18zM739 256h20v1h-20zM809 256h14v1h-14zM735 257h14v1h-14zM812 257h14v1h-14zM731 258h14v1h-14zM816 258h15v1h-15zM726 259h16v1h-16zM820 259h17v1h-17zM723 260h15v1h-15zM823 260h20v1h-20zM720 261h13v1h-13zM828 261h21v1h-21zM716 262h12v1h-12zM837 262h17v1h-17zM712 263h12v1h-12zM843 263h17v1h-17zM705 264h16v1h-16zM846 264h20v1h-20zM688 265h28v1h-28zM851 265h21v1h-21zM682 266h29v1h-29zM857 266h23v1h-23zM647 267h1v1h-1zM676 267h26v1h-26zM862 267h27v1h-27zM647 268h16v1h-16zM669 268h25v1h-25zM866 268h23v1h-23zM647 269h41v1h-41zM869 269h20v1h-20zM647 270h34v1h-34zM877 270h12v1h-12zM647 271h28v1h-28zM886 271h3v1h-3zM656 272h14v1h-14zM783 273h25v1h-25zM767 274h65v1h-65zM764 275h73v1h-73zM761 276h80v1h-80zM758 277h88v1h-88zM755 278h99v1h-99zM750 279h29v1h-29zM803 279h62v1h-62zM746 280h24v1h-24zM816 280h54v1h-54zM742 281h23v1h-23zM826 281h46v1h-46zM739 282h21v1h-21zM831 282h43v1h-43zM735 283h20v1h-20zM835 283h41v1h-41zM730 284h20v1h-20zM839 284h38v1h-38zM726 285h19v1h-19zM843 285h36v1h-36zM723 286h18v1h-18zM847 286h35v1h-35zM720 287h17v1h-17zM852 287h32v1h-32zM716 288h17v1h-17zM857 288h30v1h-30zM647 289h3v1h-3zM712 289h17v1h-17zM862 289h27v1h-27zM647 290h13v1h-13zM708 290h18v1h-18zM866 290h23v1h-23zM647 291h29v1h-29zM692 291h30v1h-30zM869 291h20v1h-20zM647 292h71v1h-71zM873 292h16v1h-16zM647 293h68v1h-68zM876 293h13v1h-13zM647 294h64v1h-64zM880 294h9v1h-9zM647 295h61v1h-61zM884 295h5v1h-5zM647 296h44v1h-44zM888 296h1v1h-1zM656 297h23v1h-23zM666 298h3v1h-3z"/>
<path fill="#ff551e" d="M780 254h14v1h-14zM769 255h33v1h-33zM759 256h50v1h-50zM749 257h63v1h-63zM745 258h32v1h-32zM796 258h20v1h-20zM742 259h25v1h-25zM804 259h16v1h-16zM738 260h22v1h-22zM810 260h13v1h-13zM733 261h21v1h-21zM815 261h13v1h-13zM728 262h20v1h-20zM821 262h16v1h-16zM724 263h19v1h-19zM828 263h15v1h-15zM721 264h17v1h-17zM831 264h15v1h-15zM716 265h16v1h-16zM834 265h17v1h-17zM711 266h16v1h-16zM837 266h20v1h-20zM702 267h19v1h-19zM841 267h21v1h-21zM694 268h22v1h-22zM846 268h20v1h-20zM688 269h21v1h-21zM851 269h18v1h-18zM681 270h21v1h-21zM854 270h23v1h-23zM675 271h21v1h-21zM775 271h51v1h-51zM853 271h33v1h-33zM647 272h9v1h-9zM670 272h21v1h-21zM764 272h125v1h-125zM647 273h41v1h-41zM759 273h24v1h-24zM808 273h81v1h-81zM647 274h38v1h-38zM755 274h12v1h-12zM832 274h57v1h-57zM647 275h35v1h-35zM751 275h13v1h-13zM837 275h52v1h-52zM647 276h32v1h-32zM746 276h15v1h-15zM841 276h48v1h-48zM647 277h29v1h-29zM740 277h18v1h-18zM846 277h43v1h-43zM647 278h27v1h-27zM736 278h19v1h-19zM854 278h35v1h-35zM647 279h24v1h-24zM733 279h17v1h-17zM865 279h24v1h-24zM647 280h22v1h-22zM730 280h16v1h-16zM870 280h19v1h-19zM726 281h16v1h-16zM872 281h17v1h-17zM647 281h21v2h-21zM723 282h16v1h-16zM874 282h15v1h-15zM647 283h22v1h-22zM720 283h15v1h-15zM876 283h13v1h-13zM647 284h25v1h-25zM716 284h14v1h-14zM877 284h12v1h-12zM647 285h28v1h-28zM713 285h13v1h-13zM879 285h10v1h-10zM647 286h32v1h-32zM709 286h14v1h-14zM882 286h7v1h-7zM647 287h36v1h-36zM696 287h24v1h-24zM884 287h5v1h-5zM647 288h40v1h-40zM688 288h28v1h-28zM887 288h2v1h-2zM650 289h62v1h-62zM660 290h48v1h-48zM676 291h16v1h-16z"/>
<path fill="#e63705" d="M777 258h19v1h-19zM767 259h37v1h-37zM760 260h50v1h-50zM754 261h32v1h-32zM790 261h25v1h-25zM748 262h30v1h-30zM803 262h18v1h-18zM743 263h27v1h-27zM809 263h19v1h-19zM738 264h25v1h-25zM810 264h21v1h-21zM732 265h25v1h-25zM811 265h23v1h-23zM727 266h24v1h-24zM809 266h28v1h-28zM721 267h23v1h-23zM802 267h39v1h-39zM716 268h21v1h-21zM764 268h82v1h-82zM709 269h20v1h-20zM760 269h91v1h-91zM702 270h21v1h-21zM757 270h97v1h-97zM696 271h21v1h-21zM754 271h21v1h-21zM826 271h27v1h-27zM691 272h19v1h-19zM750 272h14v1h-14zM688 273h18v1h-18zM744 273h15v1h-15zM685 274h19v1h-19zM732 274h23v1h-23zM682 275h20v1h-20zM723 275h28v1h-28zM679 276h22v1h-22zM720 276h26v1h-26zM676 277h24v1h-24zM718 277h22v1h-22zM674 278h25v1h-25zM716 278h20v1h-20zM671 279h28v1h-28zM714 279h19v1h-19zM669 280h31v1h-31zM712 280h18v1h-18zM668 281h34v1h-34zM710 281h16v1h-16zM668 282h38v1h-38zM708 282h15v1h-15zM669 283h51v1h-51zM672 284h44v1h-44zM675 285h38v1h-38zM679 286h30v1h-30zM683 287h13v1h-13zM687 288h1v1h-1z"/>
<path fill="#b9230a" d="M786 261h4v1h-4zM778 262h25v1h-25zM770 263h39v1h-39zM763 264h47v1h-47zM757 265h54v1h-54zM751 266h58v1h-58zM744 267h58v1h-58zM737 268h27v1h-27zM729 269h31v1h-31zM723 270h34v1h-34zM717 271h37v1h-37zM710 272h40v1h-40zM706 273h38v1h-38zM704 274h28v1h-28zM702 275h21v1h-21zM701 276h19v1h-19zM700 277h18v1h-18zM699 278h17v1h-17zM699 279h15v1h-15zM700 280h12v1h-12zM702 281h8v1h-8zM706 282h2v1h-2z"/></g>
<g shape-rendering="crispEdges"><path fill="#ffe8d7" d="M429 665h5v1h-5zM425 666h14v1h-14zM422 667h19v1h-19zM421 668h19v1h-19zM423 669h14v1h-14zM429 670h4v1h-4zM592 775h1v1h-1zM588 776h7v1h-7zM549 777h9v1h-9zM583 777h16v1h-16zM490 778h4v1h-4zM543 778h25v1h-25zM576 778h28v1h-28zM487 779h15v1h-15zM535 779h75v1h-75zM483 780h131v1h-131zM478 781h138v1h-138zM474 782h144v1h-144zM471 783h150v1h-150zM468 784h156v1h-156zM465 785h162v1h-162zM462 786h168v1h-168zM460 787h173v1h-173zM457 788h176v1h-176zM454 789h179v1h-179zM452 790h181v1h-181zM447 791h186v1h-186zM391 792h1v1h-1zM443 792h190v1h-190zM391 793h4v1h-4zM439 793h194v1h-194zM391 794h7v1h-7zM435 794h198v1h-198zM391 795h11v1h-11zM432 795h201v1h-201zM391 796h14v1h-14zM425 796h208v1h-208zM391 797h17v1h-17zM418 797h215v1h-215zM391 798h20v1h-20zM412 798h221v1h-221zM391 799h242v5h-242z"/>
<path fill="#ffcdb4" d="M430 656h3v1h-3zM426 657h10v1h-10zM423 658h16v1h-16zM420 659h21v1h-21zM419 660h24v1h-24zM417 661h28v1h-28zM416 662h31v1h-31zM415 663h33v1h-33zM414 664h35v1h-35zM413 665h16v1h-16zM434 665h16v1h-16zM412 666h13v1h-13zM439 666h12v1h-12zM412 667h10v1h-10zM441 667h9v1h-9zM410 668h11v1h-11zM440 668h9v1h-9zM410 669h13v1h-13zM437 669h9v1h-9zM414 670h15v1h-15zM433 670h9v1h-9zM420 671h18v1h-18zM428 672h5v1h-5zM589 769h5v1h-5zM579 770h21v1h-21zM573 771h32v1h-32zM481 772h20v1h-20zM560 772h49v1h-49zM472 773h37v1h-37zM519 773h93v1h-93zM461 774h158v1h-158zM452 775h140v1h-140zM593 775h34v1h-34zM391 776h1v1h-1zM446 776h142v1h-142zM595 776h38v1h-38zM391 777h6v1h-6zM439 777h110v1h-110zM558 777h25v1h-25zM599 777h34v1h-34zM391 778h11v1h-11zM432 778h58v1h-58zM494 778h49v1h-49zM568 778h8v1h-8zM604 778h29v1h-29zM391 779h16v1h-16zM422 779h65v1h-65zM502 779h33v1h-33zM610 779h23v1h-23zM391 780h92v1h-92zM614 780h19v1h-19zM391 781h87v1h-87zM616 781h17v1h-17zM391 782h83v1h-83zM618 782h15v1h-15zM391 783h80v1h-80zM621 783h12v1h-12zM391 784h77v1h-77zM624 784h9v1h-9zM391 785h74v1h-74zM627 785h6v1h-6zM391 786h71v1h-71zM630 786h3v1h-3zM391 787h69v1h-69zM391 788h66v1h-66zM391 789h63v1h-63zM391 790h61v1h-61zM391 791h56v1h-56zM392 792h51v1h-51zM395 793h44v1h-44zM398 794h37v1h-37zM402 795h30v1h-30zM405 796h20v1h-20zM408 797h10v1h-10zM411 798h1v1h-1z"/>
<path fill="#ffaa82" d="M391 562h77v2h-77zM391 564h76v1h-76zM391 565h75v2h-75zM391 567h74v1h-74zM391 568h73v2h-73zM391 570h72v2h-72zM602 562h31v10h-31zM391 572h71v2h-71zM391 574h70v2h-70zM391 576h69v2h-69zM391 578h68v2h-68zM391 580h67v2h-67zM601 572h32v11h-32zM391 582h66v2h-66zM391 584h65v1h-65zM602 583h31v4h-31zM391 585h64v4h-64zM391 589h63v2h-63zM391 591h64v2h-64zM391 593h65v1h-65zM603 587h30v7h-30zM391 594h66v1h-66zM391 595h67v1h-67zM391 596h69v1h-69zM602 594h31v3h-31zM391 597h70v1h-70zM391 598h71v2h-71zM601 597h32v5h-32zM602 602h31v1h-31zM603 603h30v1h-30zM391 600h72v5h-72zM604 604h29v2h-29zM605 606h28v1h-28zM606 607h27v1h-27zM607 608h26v2h-26zM391 605h71v6h-71zM608 610h25v1h-25zM609 611h24v2h-24zM391 611h70v3h-70zM610 613h23v1h-23zM611 614h22v1h-22zM391 614h69v2h-69zM612 615h21v1h-21zM614 616h19v1h-19zM391 616h68v2h-68zM616 617h17v1h-17zM391 618h67v1h-67zM618 618h15v1h-15zM391 619h66v1h-66zM619 619h14v1h-14zM391 620h65v1h-65zM621 620h12v1h-12zM391 621h63v1h-63zM622 621h11v1h-11zM391 622h61v1h-61zM624 622h9v1h-9zM391 623h52v1h-52zM625 623h8v1h-8zM391 624h44v1h-44zM627 624h6v1h-6zM391 625h40v1h-40zM628 625h5v1h-5zM391 626h36v1h-36zM629 626h4v1h-4zM391 627h33v1h-33zM630 627h3v1h-3zM391 628h31v1h-31zM632 628h1v1h-1zM393 629h27v1h-27zM397 630h21v1h-21zM400 631h17v1h-17zM403 632h14v1h-14zM404 633h12v1h-12zM406 634h9v1h-9zM407 635h8v1h-8zM408 636h7v1h-7zM409 637h5v1h-5zM410 638h4v1h-4zM411 639h2v1h-2zM411 640h1v1h-1zM430 644h4v1h-4zM421 645h19v1h-19zM410 646h35v1h-35zM406 647h44v1h-44zM403 648h49v1h-49zM401 649h58v1h-58zM399 650h74v1h-74zM397 651h77v1h-77zM396 652h78v1h-78zM395 653h80v1h-80zM394 654h81v2h-81zM394 656h36v1h-36zM433 656h41v1h-41zM394 657h32v1h-32zM436 657h38v1h-38zM394 658h29v1h-29zM439 658h34v1h-34zM395 659h25v1h-25zM441 659h31v1h-31zM395 660h24v1h-24zM443 660h28v1h-28zM396 661h21v1h-21zM445 661h22v1h-22zM396 662h20v1h-20zM447 662h16v1h-16zM397 663h18v1h-18zM448 663h13v1h-13zM398 664h16v1h-16zM449 664h11v1h-11zM398 665h15v1h-15zM450 665h9v1h-9zM398 666h14v1h-14zM451 666h7v1h-7zM399 667h13v1h-13zM450 667h7v1h-7zM399 668h11v1h-11zM449 668h6v1h-6zM400 669h10v1h-10zM446 669h7v1h-7zM402 670h12v1h-12zM442 670h9v1h-9zM406 671h14v1h-14zM438 671h8v1h-8zM412 672h16v1h-16zM433 672h8v1h-8zM426 673h8v1h-8zM530 749h6v1h-6zM522 750h30v1h-30zM514 751h60v1h-60zM510 752h66v1h-66zM507 753h71v1h-71zM504 754h77v1h-77zM500 755h84v1h-84zM496 756h92v1h-92zM471 757h122v1h-122zM467 758h129v1h-129zM461 759h138v1h-138zM456 760h146v1h-146zM451 761h155v1h-155zM448 762h162v1h-162zM445 763h169v1h-169zM442 764h175v1h-175zM440 765h179v1h-179zM437 766h185v1h-185zM433 767h192v1h-192zM426 768h202v1h-202zM413 769h176v1h-176zM594 769h38v1h-38zM391 770h188v1h-188zM600 770h33v1h-33zM391 771h182v1h-182zM605 771h28v1h-28zM391 772h90v1h-90zM501 772h59v1h-59zM609 772h24v1h-24zM391 773h81v1h-81zM509 773h10v1h-10zM612 773h21v1h-21zM391 774h70v1h-70zM619 774h14v1h-14zM391 775h61v1h-61zM627 775h6v1h-6zM392 776h54v1h-54zM397 777h42v1h-42zM402 778h30v1h-30zM407 779h15v1h-15z"/>
<path fill="#ff7d4b" d="M468 562h23v2h-23zM467 564h24v1h-24zM466 565h25v2h-25zM584 562h18v5h-18zM465 567h26v1h-26zM464 568h27v2h-27zM583 567h19v4h-19zM463 570h28v2h-28zM582 571h20v1h-20zM581 572h20v1h-20zM462 572h29v2h-29zM580 573h21v1h-21zM579 574h22v1h-22zM461 574h30v2h-30zM578 575h23v1h-23zM576 576h25v1h-25zM460 576h30v2h-30zM575 577h26v1h-26zM459 578h31v2h-31zM573 578h28v2h-28zM458 580h32v1h-32zM458 581h31v1h-31zM572 580h29v2h-29zM457 582h31v1h-31zM571 582h30v1h-30zM457 583h29v1h-29zM456 584h28v1h-28zM455 585h28v1h-28zM455 586h26v1h-26zM571 583h31v4h-31zM455 587h25v1h-25zM571 587h32v1h-32zM455 588h24v1h-24zM454 589h25v2h-25zM570 588h33v3h-33zM455 591h24v2h-24zM569 591h34v2h-34zM456 593h24v1h-24zM568 593h35v1h-35zM457 594h24v1h-24zM568 594h34v1h-34zM458 595h23v1h-23zM460 596h22v1h-22zM567 595h35v2h-35zM461 597h21v1h-21zM462 598h20v1h-20zM566 597h35v2h-35zM462 599h21v1h-21zM463 600h20v1h-20zM565 599h36v2h-36zM566 601h35v1h-35zM566 602h36v1h-36zM566 603h37v1h-37zM463 601h19v4h-19zM566 604h38v1h-38zM567 605h37v1h-37zM462 605h20v2h-20zM567 606h38v1h-38zM568 607h38v1h-38zM568 608h39v2h-39zM462 607h19v4h-19zM569 610h39v1h-39zM461 611h19v2h-19zM569 611h40v2h-40zM461 613h18v1h-18zM569 613h41v1h-41zM570 614h41v1h-41zM460 614h18v2h-18zM570 615h42v1h-42zM570 616h44v1h-44zM459 616h18v2h-18zM570 617h46v1h-46zM458 618h18v1h-18zM571 618h47v1h-47zM457 619h19v1h-19zM571 619h48v1h-48zM456 620h19v1h-19zM571 620h50v1h-50zM454 621h20v1h-20zM571 621h51v1h-51zM452 622h20v1h-20zM572 622h52v1h-52zM443 623h28v1h-28zM572 623h53v1h-53zM435 624h34v1h-34zM572 624h55v1h-55zM431 625h37v1h-37zM573 625h55v1h-55zM427 626h40v1h-40zM577 626h52v1h-52zM424 627h41v1h-41zM582 627h48v1h-48zM422 628h42v1h-42zM587 628h45v1h-45zM391 629h2v1h-2zM420 629h43v1h-43zM592 629h41v1h-41zM391 630h6v1h-6zM418 630h44v1h-44zM594 630h39v1h-39zM391 631h9v1h-9zM595 631h38v1h-38zM391 632h12v1h-12zM417 631h44v2h-44zM597 632h36v1h-36zM391 633h13v1h-13zM416 633h44v1h-44zM598 633h35v1h-35zM391 634h15v1h-15zM600 634h33v1h-33zM391 635h16v1h-16zM601 635h32v1h-32zM391 636h17v1h-17zM415 634h45v3h-45zM603 636h30v1h-30zM391 637h18v1h-18zM414 637h46v1h-46zM604 637h29v1h-29zM391 638h19v1h-19zM414 638h47v1h-47zM606 638h27v1h-27zM413 639h49v1h-49zM608 639h25v1h-25zM391 639h20v2h-20zM412 640h51v1h-51zM610 640h23v1h-23zM391 641h73v1h-73zM612 641h21v1h-21zM391 642h74v1h-74zM614 642h19v1h-19zM391 643h75v1h-75zM612 643h21v1h-21zM391 644h39v1h-39zM434 644h33v1h-33zM610 644h23v1h-23zM391 645h30v1h-30zM440 645h29v1h-29zM608 645h25v1h-25zM391 646h19v1h-19zM445 646h25v1h-25zM607 646h26v1h-26zM391 647h15v1h-15zM450 647h23v1h-23zM606 647h27v1h-27zM391 648h12v1h-12zM452 648h27v1h-27zM391 649h10v1h-10zM459 649h24v1h-24zM607 648h26v2h-26zM391 650h8v1h-8zM473 650h10v1h-10zM608 650h25v1h-25zM391 651h6v1h-6zM610 651h23v1h-23zM391 652h5v1h-5zM474 651h9v2h-9zM611 652h22v1h-22zM391 653h4v1h-4zM475 653h8v1h-8zM612 653h21v1h-21zM475 654h7v1h-7zM613 654h20v1h-20zM475 655h6v1h-6zM615 655h18v1h-18zM474 656h7v1h-7zM616 656h17v1h-17zM474 657h6v1h-6zM617 657h16v1h-16zM391 654h3v5h-3zM473 658h6v1h-6zM618 658h15v1h-15zM472 659h6v1h-6zM619 659h14v1h-14zM391 659h4v2h-4zM471 660h6v1h-6zM620 660h13v1h-13zM467 661h9v1h-9zM622 661h11v1h-11zM391 661h5v2h-5zM463 662h11v1h-11zM623 662h10v1h-10zM391 663h6v1h-6zM461 663h11v1h-11zM624 663h9v1h-9zM460 664h10v1h-10zM626 664h7v1h-7zM459 665h8v1h-8zM627 665h6v1h-6zM391 664h7v3h-7zM458 666h7v1h-7zM628 666h5v1h-5zM457 667h6v1h-6zM391 667h8v2h-8zM455 668h6v1h-6zM630 667h3v2h-3zM391 669h9v1h-9zM453 669h5v1h-5zM631 669h2v1h-2zM391 670h11v1h-11zM451 670h5v1h-5zM632 670h1v1h-1zM394 671h12v1h-12zM446 671h7v1h-7zM400 672h12v1h-12zM441 672h8v1h-8zM409 673h17v1h-17zM434 673h8v1h-8zM427 674h6v1h-6zM518 703h34v1h-34zM511 704h42v1h-42zM509 705h45v1h-45zM508 706h47v1h-47zM507 707h49v1h-49zM505 708h52v1h-52zM504 709h54v1h-54zM503 710h55v1h-55zM502 711h57v1h-57zM501 712h58v1h-58zM500 713h59v1h-59zM499 714h61v1h-61zM498 715h62v1h-62zM497 716h63v1h-63zM496 717h64v1h-64zM495 718h66v1h-66zM494 719h67v1h-67zM493 720h68v1h-68zM492 721h69v1h-69zM491 722h71v2h-71zM490 724h73v1h-73zM490 725h74v1h-74zM489 726h76v1h-76zM488 727h79v1h-79zM488 728h81v1h-81zM487 729h84v1h-84zM486 730h87v1h-87zM484 731h94v1h-94zM483 732h104v1h-104zM481 733h111v1h-111zM479 734h114v1h-114zM477 735h116v1h-116zM474 736h119v1h-119zM471 737h123v1h-123zM469 738h125v1h-125zM467 739h127v1h-127zM465 740h130v1h-130zM463 741h132v1h-132zM460 742h136v1h-136zM458 743h139v1h-139zM456 744h142v1h-142zM453 745h147v1h-147zM450 746h152v1h-152zM447 747h157v1h-157zM445 748h162v1h-162zM442 749h88v1h-88zM536 749h73v1h-73zM440 750h82v1h-82zM552 750h60v1h-60zM438 751h76v1h-76zM574 751h41v1h-41zM435 752h75v1h-75zM576 752h42v1h-42zM433 753h74v1h-74zM578 753h43v1h-43zM430 754h74v1h-74zM581 754h43v1h-43zM425 755h75v1h-75zM584 755h43v1h-43zM420 756h76v1h-76zM588 756h41v1h-41zM415 757h56v1h-56zM593 757h38v1h-38zM391 758h76v1h-76zM596 758h37v1h-37zM391 759h70v1h-70zM599 759h34v1h-34zM391 760h65v1h-65zM602 760h31v1h-31zM391 761h60v1h-60zM606 761h27v1h-27zM391 762h57v1h-57zM610 762h23v1h-23zM391 763h54v1h-54zM614 763h19v1h-19zM391 764h51v1h-51zM617 764h16v1h-16zM391 765h49v1h-49zM619 765h14v1h-14zM391 766h46v1h-46zM622 766h11v1h-11zM391 767h42v1h-42zM625 767h8v1h-8zM391 768h35v1h-35zM628 768h5v1h-5zM391 769h22v1h-22zM632 769h1v1h-1z"/>
<path fill="#ff551e" d="M560 562h24v2h-24zM559 564h25v1h-25zM558 565h26v1h-26zM491 562h24v5h-24zM556 566h28v1h-28zM554 567h29v1h-29zM552 568h31v1h-31zM550 569h33v1h-33zM549 570h34v1h-34zM548 571h34v1h-34zM547 572h34v1h-34zM545 573h35v1h-35zM491 567h25v8h-25zM544 574h35v1h-35zM491 575h26v1h-26zM543 575h35v1h-35zM541 576h35v1h-35zM541 577h34v1h-34zM490 576h27v3h-27zM540 578h33v1h-33zM490 579h28v1h-28zM539 579h34v1h-34zM490 580h27v1h-27zM489 581h28v1h-28zM539 580h33v2h-33zM488 582h27v1h-27zM486 583h26v1h-26zM539 582h32v2h-32zM484 584h27v1h-27zM483 585h27v1h-27zM481 586h27v1h-27zM480 587h27v1h-27zM540 584h31v4h-31zM479 588h27v2h-27zM540 588h30v3h-30zM540 591h29v1h-29zM479 590h26v3h-26zM539 592h30v1h-30zM480 593h25v1h-25zM539 593h29v2h-29zM481 594h24v2h-24zM539 595h28v1h-28zM538 596h29v1h-29zM482 596h23v3h-23zM538 597h28v2h-28zM483 599h22v2h-22zM538 599h27v2h-27zM482 601h22v1h-22zM539 601h27v1h-27zM482 602h21v1h-21zM540 602h26v1h-26zM482 603h19v1h-19zM541 603h25v1h-25zM482 604h18v1h-18zM543 604h23v1h-23zM482 605h17v1h-17zM544 605h23v1h-23zM482 606h16v1h-16zM545 606h22v1h-22zM481 607h17v1h-17zM546 607h22v1h-22zM547 608h21v1h-21zM481 608h16v2h-16zM548 609h20v1h-20zM481 610h15v1h-15zM548 610h21v1h-21zM480 611h16v1h-16zM480 612h15v1h-15zM549 611h20v2h-20zM479 613h15v1h-15zM550 613h19v1h-19zM478 614h15v1h-15zM550 614h20v1h-20zM478 615h14v1h-14zM477 616h13v1h-13zM551 615h19v2h-19zM477 617h12v1h-12zM552 617h18v1h-18zM476 618h12v1h-12zM552 618h19v1h-19zM476 619h11v1h-11zM553 619h18v1h-18zM475 620h11v1h-11zM554 620h17v1h-17zM474 621h11v1h-11zM555 621h16v1h-16zM472 622h12v1h-12zM556 622h16v1h-16zM471 623h12v1h-12zM558 623h14v1h-14zM469 624h13v1h-13zM559 624h13v1h-13zM468 625h13v1h-13zM559 625h14v1h-14zM467 626h14v1h-14zM560 626h17v1h-17zM465 627h15v1h-15zM561 627h21v1h-21zM464 628h16v1h-16zM561 628h26v1h-26zM463 629h16v1h-16zM562 629h30v1h-30zM462 630h17v1h-17zM563 630h31v1h-31zM461 631h18v1h-18zM563 631h32v1h-32zM461 632h17v1h-17zM564 632h33v1h-33zM565 633h33v1h-33zM566 634h34v1h-34zM460 633h18v3h-18zM567 635h34v1h-34zM568 636h35v1h-35zM460 636h19v2h-19zM569 637h35v1h-35zM461 638h19v1h-19zM570 638h36v1h-36zM462 639h19v1h-19zM571 639h37v1h-37zM463 640h19v1h-19zM574 640h36v1h-36zM464 641h19v1h-19zM576 641h36v1h-36zM465 642h20v1h-20zM578 642h36v1h-36zM466 643h20v1h-20zM580 643h32v1h-32zM467 644h21v1h-21zM582 644h28v1h-28zM469 645h21v1h-21zM583 645h25v1h-25zM470 646h23v1h-23zM585 646h22v1h-22zM473 647h24v1h-24zM586 647h20v1h-20zM479 648h20v1h-20zM588 648h19v1h-19zM483 649h15v1h-15zM589 649h18v1h-18zM483 650h14v1h-14zM590 650h18v1h-18zM483 651h11v1h-11zM592 651h18v1h-18zM483 652h9v1h-9zM593 652h18v1h-18zM483 653h7v1h-7zM596 653h16v1h-16zM482 654h7v1h-7zM598 654h15v1h-15zM481 655h7v1h-7zM600 655h15v1h-15zM481 656h6v1h-6zM603 656h13v1h-13zM480 657h6v1h-6zM604 657h13v1h-13zM479 658h5v1h-5zM606 658h12v1h-12zM478 659h5v1h-5zM607 659h12v1h-12zM477 660h5v1h-5zM609 660h11v1h-11zM476 661h5v1h-5zM610 661h12v1h-12zM474 662h5v1h-5zM611 662h12v1h-12zM472 663h6v1h-6zM612 663h12v1h-12zM470 664h6v1h-6zM614 664h12v1h-12zM467 665h7v1h-7zM617 665h10v1h-10zM465 666h7v1h-7zM620 666h8v1h-8zM463 667h6v1h-6zM623 667h7v1h-7zM461 668h5v1h-5zM625 668h5v1h-5zM458 669h5v1h-5zM626 669h5v1h-5zM456 670h5v1h-5zM627 670h5v1h-5zM391 671h3v1h-3zM453 671h6v1h-6zM628 671h5v1h-5zM391 672h9v1h-9zM449 672h7v1h-7zM631 672h2v1h-2zM398 673h11v1h-11zM442 673h9v1h-9zM409 674h18v1h-18zM433 674h8v1h-8zM430 675h3v1h-3zM510 698h27v1h-27zM503 699h44v1h-44zM492 700h64v1h-64zM491 701h71v1h-71zM490 702h77v1h-77zM489 703h29v1h-29zM552 703h19v1h-19zM487 704h24v1h-24zM553 704h22v1h-22zM484 705h25v1h-25zM554 705h26v1h-26zM481 706h27v1h-27zM555 706h28v1h-28zM477 707h30v1h-30zM556 707h28v1h-28zM476 708h29v1h-29zM557 708h28v1h-28zM475 709h29v1h-29zM474 710h29v1h-29zM558 709h27v2h-27zM474 711h28v1h-28zM474 712h27v1h-27zM559 711h26v2h-26zM473 713h27v1h-27zM559 713h27v1h-27zM473 714h26v1h-26zM473 715h25v1h-25zM473 716h24v1h-24zM473 717h23v1h-23zM560 714h26v4h-26zM473 718h22v1h-22zM473 719h21v1h-21zM473 720h20v1h-20zM473 721h19v1h-19zM561 718h25v4h-25zM473 722h18v1h-18zM562 722h25v1h-25zM472 723h19v1h-19zM562 723h26v1h-26zM472 724h18v1h-18zM563 724h27v1h-27zM471 725h19v1h-19zM564 725h28v1h-28zM470 726h19v1h-19zM565 726h29v1h-29zM469 727h19v1h-19zM567 727h30v1h-30zM467 728h21v1h-21zM569 728h32v1h-32zM465 729h22v1h-22zM571 729h33v1h-33zM462 730h24v1h-24zM573 730h34v1h-34zM457 731h27v1h-27zM578 731h32v1h-32zM453 732h30v1h-30zM587 732h26v1h-26zM450 733h31v1h-31zM592 733h23v1h-23zM447 734h32v1h-32zM593 734h24v1h-24zM444 735h33v1h-33zM593 735h27v1h-27zM441 736h33v1h-33zM593 736h31v1h-31zM437 737h34v1h-34zM594 737h35v1h-35zM391 738h1v1h-1zM433 738h36v1h-36zM391 739h3v1h-3zM430 739h37v1h-37zM594 738h39v2h-39zM391 740h5v1h-5zM427 740h38v1h-38zM391 741h7v1h-7zM425 741h38v1h-38zM595 740h38v2h-38zM391 742h10v1h-10zM422 742h38v1h-38zM596 742h37v1h-37zM391 743h12v1h-12zM420 743h38v1h-38zM597 743h36v1h-36zM391 744h14v1h-14zM417 744h39v1h-39zM598 744h35v1h-35zM391 745h17v1h-17zM414 745h39v1h-39zM600 745h33v1h-33zM391 746h59v1h-59zM602 746h31v1h-31zM391 747h56v1h-56zM604 747h29v1h-29zM391 748h54v1h-54zM607 748h26v1h-26zM391 749h51v1h-51zM609 749h24v1h-24zM391 750h49v1h-49zM612 750h21v1h-21zM391 751h47v1h-47zM615 751h18v1h-18zM391 752h44v1h-44zM618 752h15v1h-15zM391 753h42v1h-42zM621 753h12v1h-12zM391 754h39v1h-39zM624 754h9v1h-9zM391 755h34v1h-34zM627 755h6v1h-6zM391 756h29v1h-29zM629 756h4v1h-4zM391 757h24v1h-24zM631 757h2v1h-2z"/>
<path fill="#e63705" d="M515 562h45v2h-45zM515 564h44v1h-44zM515 565h43v1h-43zM515 566h41v1h-41zM516 567h38v1h-38zM516 568h36v1h-36zM516 569h34v1h-34zM516 570h33v1h-33zM516 571h32v1h-32zM516 572h31v1h-31zM516 573h29v1h-29zM516 574h28v1h-28zM517 575h26v1h-26zM517 576h24v2h-24zM517 578h23v1h-23zM518 579h21v1h-21zM517 580h22v2h-22zM515 582h24v1h-24zM512 583h27v1h-27zM511 584h29v1h-29zM510 585h30v1h-30zM508 586h32v1h-32zM507 587h33v1h-33zM506 588h34v2h-34zM505 590h35v2h-35zM505 592h34v4h-34zM505 596h33v5h-33zM504 601h35v1h-35zM503 602h37v1h-37zM501 603h40v1h-40zM500 604h43v1h-43zM499 605h45v1h-45zM498 606h47v1h-47zM498 607h48v1h-48zM497 608h14v1h-14zM533 608h14v1h-14zM497 609h12v1h-12zM496 610h13v1h-13zM535 609h13v2h-13zM496 611h12v1h-12zM536 611h13v1h-13zM495 612h12v1h-12zM537 612h12v1h-12zM494 613h12v1h-12zM493 614h12v1h-12zM538 613h12v2h-12zM492 615h13v1h-13zM539 615h12v1h-12zM490 616h14v1h-14zM540 616h11v1h-11zM489 617h14v1h-14zM488 618h14v1h-14zM540 617h12v2h-12zM487 619h14v1h-14zM541 619h12v1h-12zM486 620h14v1h-14zM541 620h13v1h-13zM485 621h14v1h-14zM542 621h13v1h-13zM484 622h14v1h-14zM542 622h14v1h-14zM483 623h13v1h-13zM543 623h15v1h-15zM482 624h13v1h-13zM543 624h16v1h-16zM544 625h15v1h-15zM481 625h13v2h-13zM544 626h16v1h-16zM480 627h14v1h-14zM480 628h15v1h-15zM545 627h16v2h-16zM479 629h16v1h-16zM545 629h17v1h-17zM479 630h17v1h-17zM479 631h18v1h-18zM546 630h17v2h-17zM478 632h21v1h-21zM546 632h18v1h-18zM478 633h23v1h-23zM547 633h18v1h-18zM478 634h26v1h-26zM547 634h19v1h-19zM478 635h31v1h-31zM549 635h18v1h-18zM479 636h65v1h-65zM552 636h16v1h-16zM479 637h69v1h-69zM552 637h17v1h-17zM480 638h71v1h-71zM552 638h18v1h-18zM481 639h90v1h-90zM482 640h92v1h-92zM483 641h93v1h-93zM485 642h93v1h-93zM486 643h94v1h-94zM488 644h94v1h-94zM490 645h93v1h-93zM493 646h92v1h-92zM497 647h89v1h-89zM499 648h89v1h-89zM498 649h91v1h-91zM497 650h31v1h-31zM573 650h17v1h-17zM494 651h26v1h-26zM576 651h16v1h-16zM492 652h24v1h-24zM579 652h14v1h-14zM490 653h24v1h-24zM581 653h15v1h-15zM489 654h23v1h-23zM584 654h14v1h-14zM488 655h18v1h-18zM587 655h13v1h-13zM487 656h10v1h-10zM590 656h13v1h-13zM486 657h6v1h-6zM593 657h11v1h-11zM484 658h6v1h-6zM596 658h10v1h-10zM483 659h5v1h-5zM599 659h8v1h-8zM482 660h5v1h-5zM600 660h9v1h-9zM481 661h5v1h-5zM602 661h8v1h-8zM479 662h6v1h-6zM603 662h8v1h-8zM478 663h5v1h-5zM604 663h8v1h-8zM476 664h6v1h-6zM606 664h8v1h-8zM474 665h6v1h-6zM608 665h9v1h-9zM472 666h6v1h-6zM612 666h8v1h-8zM469 667h6v1h-6zM617 667h6v1h-6zM466 668h6v1h-6zM619 668h6v1h-6zM463 669h5v1h-5zM620 669h6v1h-6zM461 670h5v1h-5zM621 670h6v1h-6zM459 671h5v1h-5zM623 671h5v1h-5zM456 672h6v1h-6zM625 672h6v1h-6zM391 673h7v1h-7zM451 673h7v1h-7zM629 673h4v1h-4zM398 674h11v1h-11zM441 674h8v1h-8zM417 675h13v1h-13zM433 675h9v1h-9zM515 695h25v1h-25zM506 696h46v1h-46zM501 697h58v1h-58zM494 698h16v1h-16zM537 698h27v1h-27zM488 699h15v1h-15zM547 699h23v1h-23zM484 700h8v1h-8zM556 700h20v1h-20zM483 701h8v1h-8zM562 701h21v1h-21zM481 702h9v1h-9zM567 702h24v1h-24zM478 703h11v1h-11zM571 703h27v1h-27zM472 704h15v1h-15zM575 704h32v1h-32zM468 705h16v1h-16zM580 705h33v1h-33zM465 706h16v1h-16zM583 706h33v1h-33zM464 707h13v1h-13zM584 707h37v1h-37zM462 708h14v1h-14zM585 708h46v1h-46zM391 709h16v1h-16zM461 709h14v1h-14zM391 710h23v1h-23zM460 710h14v1h-14zM391 711h25v1h-25zM459 711h15v1h-15zM391 712h27v1h-27zM458 712h16v1h-16zM585 709h48v4h-48zM391 713h28v2h-28zM391 715h27v1h-27zM391 716h25v1h-25zM391 717h22v1h-22zM586 713h47v5h-47zM586 718h40v1h-40zM586 719h27v1h-27zM586 720h24v1h-24zM586 721h22v1h-22zM458 713h15v10h-15zM587 722h20v1h-20zM457 723h15v1h-15zM588 723h20v1h-20zM456 724h16v1h-16zM590 724h20v1h-20zM455 725h16v1h-16zM592 725h20v1h-20zM453 726h17v1h-17zM594 726h22v1h-22zM451 727h18v1h-18zM597 727h24v1h-24zM448 728h19v1h-19zM601 728h24v1h-24zM444 729h21v1h-21zM604 729h25v1h-25zM440 730h22v1h-22zM607 730h25v1h-25zM391 731h5v1h-5zM435 731h22v1h-22zM610 731h23v1h-23zM391 732h12v1h-12zM426 732h27v1h-27zM613 732h20v1h-20zM391 733h18v1h-18zM415 733h35v1h-35zM615 733h18v1h-18zM391 734h56v1h-56zM617 734h16v1h-16zM391 735h53v1h-53zM620 735h13v1h-13zM391 736h50v1h-50zM624 736h9v1h-9zM391 737h46v1h-46zM629 737h4v1h-4zM392 738h41v1h-41zM394 739h36v1h-36zM396 740h31v1h-31zM398 741h27v1h-27zM401 742h21v1h-21zM403 743h17v1h-17zM405 744h12v1h-12zM408 745h6v1h-6z"/>
<path fill="#b9230a" d="M511 608h22v1h-22zM509 609h26v2h-26zM508 611h28v1h-28zM507 612h30v1h-30zM506 613h32v1h-32zM505 614h33v1h-33zM505 615h34v1h-34zM504 616h36v1h-36zM503 617h37v1h-37zM502 618h38v1h-38zM501 619h40v1h-40zM500 620h41v1h-41zM499 621h43v1h-43zM498 622h44v1h-44zM496 623h47v1h-47zM495 624h48v1h-48zM494 625h50v2h-50zM494 627h51v1h-51zM495 628h50v2h-50zM496 630h50v1h-50zM497 631h49v1h-49zM499 632h47v1h-47zM501 633h46v1h-46zM504 634h43v1h-43zM509 635h40v1h-40zM544 636h8v1h-8zM548 637h4v1h-4zM551 638h1v1h-1zM528 650h45v1h-45zM520 651h56v1h-56zM516 652h63v1h-63zM514 653h17v1h-17zM540 653h41v1h-41zM512 654h16v1h-16zM559 654h25v1h-25zM506 655h18v1h-18zM571 655h16v1h-16zM497 656h22v1h-22zM574 656h16v1h-16zM492 657h20v1h-20zM577 657h16v1h-16zM490 658h17v1h-17zM581 658h15v1h-15zM488 659h12v1h-12zM586 659h13v1h-13zM487 660h6v1h-6zM592 660h8v1h-8zM486 661h5v1h-5zM594 661h8v1h-8zM485 662h5v1h-5zM595 662h8v1h-8zM483 663h6v1h-6zM597 663h7v1h-7zM482 664h5v1h-5zM598 664h8v1h-8zM480 665h6v1h-6zM600 665h8v1h-8zM478 666h6v1h-6zM603 666h9v1h-9zM475 667h7v1h-7zM608 667h9v1h-9zM472 668h7v1h-7zM613 668h6v1h-6zM468 669h6v1h-6zM615 669h5v1h-5zM466 670h5v1h-5zM616 670h5v1h-5zM464 671h6v1h-6zM617 671h6v1h-6zM462 672h6v1h-6zM619 672h6v1h-6zM458 673h7v1h-7zM622 673h7v1h-7zM391 674h7v1h-7zM449 674h10v1h-10zM628 674h5v1h-5zM396 675h21v1h-21zM442 675h9v1h-9zM415 676h31v1h-31zM428 677h7v1h-7zM525 692h12v1h-12zM511 693h38v1h-38zM503 694h57v1h-57zM497 695h18v1h-18zM540 695h30v1h-30zM493 696h13v1h-13zM552 696h23v1h-23zM488 697h13v1h-13zM559 697h23v1h-23zM483 698h11v1h-11zM564 698h23v1h-23zM479 699h9v1h-9zM570 699h22v1h-22zM476 700h8v1h-8zM576 700h26v1h-26zM475 701h8v1h-8zM583 701h28v1h-28zM472 702h9v1h-9zM591 702h27v1h-27zM466 703h12v1h-12zM598 703h27v1h-27zM460 704h12v1h-12zM607 704h24v1h-24zM391 705h13v1h-13zM457 705h11v1h-11zM613 705h20v1h-20zM391 706h28v1h-28zM455 706h10v1h-10zM616 706h17v1h-17zM391 707h37v1h-37zM453 707h11v1h-11zM621 707h12v1h-12zM391 708h40v1h-40zM441 708h21v1h-21zM631 708h2v1h-2zM407 709h54v1h-54zM414 710h46v1h-46zM416 711h43v1h-43zM418 712h40v1h-40zM419 713h39v2h-39zM418 715h40v1h-40zM416 716h42v1h-42zM413 717h45v1h-45zM626 718h7v1h-7zM613 719h20v1h-20zM610 720h23v1h-23zM391 718h67v4h-67zM608 721h25v1h-25zM391 722h38v1h-38zM434 722h24v1h-24zM607 722h26v1h-26zM391 723h36v1h-36zM436 723h21v1h-21zM608 723h25v1h-25zM391 724h34v1h-34zM436 724h20v1h-20zM610 724h23v1h-23zM391 725h35v1h-35zM435 725h20v1h-20zM612 725h21v1h-21zM391 726h36v1h-36zM434 726h19v1h-19zM616 726h17v1h-17zM391 727h40v1h-40zM432 727h19v1h-19zM621 727h12v1h-12zM391 728h57v1h-57zM625 728h8v1h-8zM391 729h53v1h-53zM629 729h4v1h-4zM391 730h49v1h-49zM632 730h1v1h-1zM396 731h39v1h-39zM403 732h23v1h-23zM409 733h6v1h-6z"/>
<path fill="#8b0000" d="M531 653h9v1h-9zM528 654h31v1h-31zM524 655h47v1h-47zM519 656h55v1h-55zM512 657h65v1h-65zM507 658h74v1h-74zM500 659h86v1h-86zM493 660h99v1h-99zM491 661h103v1h-103zM490 662h105v1h-105zM489 663h108v1h-108zM487 664h111v1h-111zM486 665h114v1h-114zM484 666h119v1h-119zM482 667h126v1h-126zM479 668h134v1h-134zM474 669h141v1h-141zM471 670h145v1h-145zM470 671h147v1h-147zM468 672h151v1h-151zM465 673h157v1h-157zM459 674h169v1h-169zM391 675h5v1h-5zM451 675h182v1h-182zM391 676h24v1h-24zM446 676h187v1h-187zM391 677h37v1h-37zM435 677h198v1h-198zM391 678h242v14h-242zM391 692h134v1h-134zM537 692h96v1h-96zM391 693h120v1h-120zM549 693h84v1h-84zM391 694h112v1h-112zM560 694h73v1h-73zM391 695h106v1h-106zM570 695h63v1h-63zM391 696h102v1h-102zM575 696h58v1h-58zM391 697h97v1h-97zM582 697h51v1h-51zM391 698h92v1h-92zM587 698h46v1h-46zM391 699h88v1h-88zM592 699h41v1h-41zM391 700h85v1h-85zM602 700h31v1h-31zM391 701h84v1h-84zM611 701h22v1h-22zM391 702h81v1h-81zM618 702h15v1h-15zM391 703h75v1h-75zM625 703h8v1h-8zM391 704h69v1h-69zM631 704h2v1h-2zM404 705h53v1h-53zM419 706h36v1h-36zM428 707h25v1h-25zM431 708h10v1h-10zM429 722h5v1h-5zM427 723h9v1h-9zM425 724h11v1h-11zM426 725h9v1h-9zM427 726h7v1h-7zM431 727h1v1h-1z"/></g>
<g shape-rendering="crispEdges"><path fill="#82a5ff" d="M256 162h2v1h1v3h-2v-2h-1z"/><path fill="#4178ff" d="M767 158h2v2h1v6h-1v2h-2v-3h-1v-3h1z"/><path fill="#ffaa82" d="M511 733h9v1h-9z"/></g>
<rect x="135.5" y="157.3" width="241.0" height="240.5" fill="none" stroke="#111" stroke-width="1"/>
<path d="M135.50 157.3v-6.7M135.50 397.8v6.7M155.58 157.3v-6.7M155.58 397.8v6.7M175.67 157.3v-6.7M175.67 397.8v6.7M195.75 157.3v-6.7M195.75 397.8v6.7M215.83 157.3v-6.7M215.83 397.8v6.7M235.92 157.3v-6.7M235.92 397.8v6.7M256.00 157.3v-6.7M256.00 397.8v6.7M276.08 157.3v-6.7M276.08 397.8v6.7M296.17 157.3v-6.7M296.17 397.8v6.7M316.25 157.3v-6.7M316.25 397.8v6.7M336.33 157.3v-6.7M336.33 397.8v6.7M356.42 157.3v-6.7M356.42 397.8v6.7M376.50 157.3v-6.7M376.50 397.8v6.7M135.5 157.30h-6.7M376.5 157.30h6.7M135.5 197.38h-6.7M376.5 197.38h6.7M135.5 237.47h-6.7M376.5 237.47h6.7M135.5 277.55h-6.7M376.5 277.55h6.7M135.5 317.63h-6.7M376.5 317.63h6.7M135.5 357.72h-6.7M376.5 357.72h6.7M135.5 397.80h-6.7M376.5 397.80h6.7" stroke="#000" stroke-width="1" fill="none"/>
<path d="M135.5 170.66h-3.4M376.5 170.66h3.4M135.5 184.02h-3.4M376.5 184.02h3.4M135.5 210.74h-3.4M376.5 210.74h3.4M135.5 224.11h-3.4M376.5 224.11h3.4M135.5 250.83h-3.4M376.5 250.83h3.4M135.5 264.19h-3.4M376.5 264.19h3.4M135.5 290.91h-3.4M376.5 290.91h3.4M135.5 304.27h-3.4M376.5 304.27h3.4M135.5 330.99h-3.4M376.5 330.99h3.4M135.5 344.36h-3.4M376.5 344.36h3.4M135.5 371.08h-3.4M376.5 371.08h3.4M135.5 384.44h-3.4M376.5 384.44h3.4" stroke="#000" stroke-width="0.5" fill="none"/>
<text x="122.0" y="161.20" text-anchor="end" class="t10a">90N</text>
<text x="122.0" y="201.28" text-anchor="end" class="t10a">60N</text>
<text x="122.0" y="241.37" text-anchor="end" class="t10a">30N</text>
<text x="122.0" y="281.45" text-anchor="end" class="t10a">0</text>
<text x="122.0" y="321.53" text-anchor="end" class="t10a">30S</text>
<text x="122.0" y="361.62" text-anchor="end" class="t10a">60S</text>
<text x="122.0" y="401.70" text-anchor="end" class="t10a">90S</text>
<text x="135.50" y="420.65" text-anchor="middle" class="t10a">J</text>
<text x="155.58" y="420.65" text-anchor="middle" class="t10a">F</text>
<text x="175.67" y="420.65" text-anchor="middle" class="t10a">M</text>
<text x="195.75" y="420.65" text-anchor="middle" class="t10a">A</text>
<text x="215.83" y="420.65" text-anchor="middle" class="t10a">M</text>
<text x="235.92" y="420.65" text-anchor="middle" class="t10a">J</text>
<text x="256.00" y="420.65" text-anchor="middle" class="t10a">J</text>
<text x="276.08" y="420.65" text-anchor="middle" class="t10a">A</text>
<text x="296.17" y="420.65" text-anchor="middle" class="t10a">S</text>
<text x="316.25" y="420.65" text-anchor="middle" class="t10a">O</text>
<text x="336.33" y="420.65" text-anchor="middle" class="t10a">N</text>
<text x="356.42" y="420.65" text-anchor="middle" class="t10a">D</text>
<text x="376.50" y="420.65" text-anchor="middle" class="t10a">J</text>
<rect x="647.5" y="157.3" width="241.0" height="240.5" fill="none" stroke="#111" stroke-width="1"/>
<path d="M647.50 157.3v-6.7M647.50 397.8v6.7M667.58 157.3v-6.7M667.58 397.8v6.7M687.67 157.3v-6.7M687.67 397.8v6.7M707.75 157.3v-6.7M707.75 397.8v6.7M727.83 157.3v-6.7M727.83 397.8v6.7M747.92 157.3v-6.7M747.92 397.8v6.7M768.00 157.3v-6.7M768.00 397.8v6.7M788.08 157.3v-6.7M788.08 397.8v6.7M808.17 157.3v-6.7M808.17 397.8v6.7M828.25 157.3v-6.7M828.25 397.8v6.7M848.33 157.3v-6.7M848.33 397.8v6.7M868.42 157.3v-6.7M868.42 397.8v6.7M888.50 157.3v-6.7M888.50 397.8v6.7M647.5 157.30h-6.7M888.5 157.30h6.7M647.5 197.38h-6.7M888.5 197.38h6.7M647.5 237.47h-6.7M888.5 237.47h6.7M647.5 277.55h-6.7M888.5 277.55h6.7M647.5 317.63h-6.7M888.5 317.63h6.7M647.5 357.72h-6.7M888.5 357.72h6.7M647.5 397.80h-6.7M888.5 397.80h6.7" stroke="#000" stroke-width="1" fill="none"/>
<path d="M647.5 170.66h-3.4M888.5 170.66h3.4M647.5 184.02h-3.4M888.5 184.02h3.4M647.5 210.74h-3.4M888.5 210.74h3.4M647.5 224.11h-3.4M888.5 224.11h3.4M647.5 250.83h-3.4M888.5 250.83h3.4M647.5 264.19h-3.4M888.5 264.19h3.4M647.5 290.91h-3.4M888.5 290.91h3.4M647.5 304.27h-3.4M888.5 304.27h3.4M647.5 330.99h-3.4M888.5 330.99h3.4M647.5 344.36h-3.4M888.5 344.36h3.4M647.5 371.08h-3.4M888.5 371.08h3.4M647.5 384.44h-3.4M888.5 384.44h3.4" stroke="#000" stroke-width="0.5" fill="none"/>
<text x="634.0" y="161.20" text-anchor="end" class="t10a">90N</text>
<text x="634.0" y="201.28" text-anchor="end" class="t10a">60N</text>
<text x="634.0" y="241.37" text-anchor="end" class="t10a">30N</text>
<text x="634.0" y="281.45" text-anchor="end" class="t10a">0</text>
<text x="634.0" y="321.53" text-anchor="end" class="t10a">30S</text>
<text x="634.0" y="361.62" text-anchor="end" class="t10a">60S</text>
<text x="634.0" y="401.70" text-anchor="end" class="t10a">90S</text>
<text x="647.50" y="420.65" text-anchor="middle" class="t10a">J</text>
<text x="667.58" y="420.65" text-anchor="middle" class="t10a">F</text>
<text x="687.67" y="420.65" text-anchor="middle" class="t10a">M</text>
<text x="707.75" y="420.65" text-anchor="middle" class="t10a">A</text>
<text x="727.83" y="420.65" text-anchor="middle" class="t10a">M</text>
<text x="747.92" y="420.65" text-anchor="middle" class="t10a">J</text>
<text x="768.00" y="420.65" text-anchor="middle" class="t10a">J</text>
<text x="788.08" y="420.65" text-anchor="middle" class="t10a">A</text>
<text x="808.17" y="420.65" text-anchor="middle" class="t10a">S</text>
<text x="828.25" y="420.65" text-anchor="middle" class="t10a">O</text>
<text x="848.33" y="420.65" text-anchor="middle" class="t10a">N</text>
<text x="868.42" y="420.65" text-anchor="middle" class="t10a">D</text>
<text x="888.50" y="420.65" text-anchor="middle" class="t10a">J</text>
<rect x="391.5" y="562.5" width="241.0" height="241.0" fill="none" stroke="#111" stroke-width="1"/>
<path d="M391.50 562.5v-6.7M391.50 803.5v6.7M411.58 562.5v-6.7M411.58 803.5v6.7M431.67 562.5v-6.7M431.67 803.5v6.7M451.75 562.5v-6.7M451.75 803.5v6.7M471.83 562.5v-6.7M471.83 803.5v6.7M491.92 562.5v-6.7M491.92 803.5v6.7M512.00 562.5v-6.7M512.00 803.5v6.7M532.08 562.5v-6.7M532.08 803.5v6.7M552.17 562.5v-6.7M552.17 803.5v6.7M572.25 562.5v-6.7M572.25 803.5v6.7M592.33 562.5v-6.7M592.33 803.5v6.7M612.42 562.5v-6.7M612.42 803.5v6.7M632.50 562.5v-6.7M632.50 803.5v6.7M391.5 562.50h-6.7M632.5 562.50h6.7M391.5 602.67h-6.7M632.5 602.67h6.7M391.5 642.83h-6.7M632.5 642.83h6.7M391.5 683.00h-6.7M632.5 683.00h6.7M391.5 723.17h-6.7M632.5 723.17h6.7M391.5 763.33h-6.7M632.5 763.33h6.7M391.5 803.50h-6.7M632.5 803.50h6.7" stroke="#000" stroke-width="1" fill="none"/>
<path d="M391.5 575.89h-3.4M632.5 575.89h3.4M391.5 589.28h-3.4M632.5 589.28h3.4M391.5 616.06h-3.4M632.5 616.06h3.4M391.5 629.44h-3.4M632.5 629.44h3.4M391.5 656.22h-3.4M632.5 656.22h3.4M391.5 669.61h-3.4M632.5 669.61h3.4M391.5 696.39h-3.4M632.5 696.39h3.4M391.5 709.78h-3.4M632.5 709.78h3.4M391.5 736.56h-3.4M632.5 736.56h3.4M391.5 749.94h-3.4M632.5 749.94h3.4M391.5 776.72h-3.4M632.5 776.72h3.4M391.5 790.11h-3.4M632.5 790.11h3.4" stroke="#000" stroke-width="0.5" fill="none"/>
<text x="378.0" y="566.40" text-anchor="end" class="t10a">90N</text>
<text x="378.0" y="606.57" text-anchor="end" class="t10a">60N</text>
<text x="378.0" y="646.73" text-anchor="end" class="t10a">30N</text>
<text x="378.0" y="686.90" text-anchor="end" class="t10a">0</text>
<text x="378.0" y="727.07" text-anchor="end" class="t10a">30S</text>
<text x="378.0" y="767.23" text-anchor="end" class="t10a">60S</text>
<text x="378.0" y="807.40" text-anchor="end" class="t10a">90S</text>
<text x="391.50" y="826.35" text-anchor="middle" class="t10a">J</text>
<text x="411.58" y="826.35" text-anchor="middle" class="t10a">F</text>
<text x="431.67" y="826.35" text-anchor="middle" class="t10a">M</text>
<text x="451.75" y="826.35" text-anchor="middle" class="t10a">A</text>
<text x="471.83" y="826.35" text-anchor="middle" class="t10a">M</text>
<text x="491.92" y="826.35" text-anchor="middle" class="t10a">J</text>
<text x="512.00" y="826.35" text-anchor="middle" class="t10a">J</text>
<text x="532.08" y="826.35" text-anchor="middle" class="t10a">A</text>
<text x="552.17" y="826.35" text-anchor="middle" class="t10a">S</text>
<text x="572.25" y="826.35" text-anchor="middle" class="t10a">O</text>
<text x="592.33" y="826.35" text-anchor="middle" class="t10a">N</text>
<text x="612.42" y="826.35" text-anchor="middle" class="t10a">D</text>
<text x="632.50" y="826.35" text-anchor="middle" class="t10a">J</text>
<rect x="139.00" y="450" width="14.62" height="11.4" fill="#00008b" stroke="#000" stroke-width="0.75"/>
<rect x="153.62" y="450" width="14.62" height="11.4" fill="#001bb9" stroke="#000" stroke-width="0.75"/>
<rect x="168.25" y="450" width="14.62" height="11.4" fill="#002de1" stroke="#000" stroke-width="0.75"/>
<rect x="182.88" y="450" width="14.62" height="11.4" fill="#1950ff" stroke="#000" stroke-width="0.75"/>
<rect x="197.50" y="450" width="14.62" height="11.4" fill="#4178ff" stroke="#000" stroke-width="0.75"/>
<rect x="212.12" y="450" width="14.62" height="11.4" fill="#82a5ff" stroke="#000" stroke-width="0.75"/>
<rect x="226.75" y="450" width="14.62" height="11.4" fill="#b4cdff" stroke="#000" stroke-width="0.75"/>
<rect x="241.38" y="450" width="14.62" height="11.4" fill="#d7e8ff" stroke="#000" stroke-width="0.75"/>
<rect x="256.00" y="450" width="14.62" height="11.4" fill="#ffe8d7" stroke="#000" stroke-width="0.75"/>
<rect x="270.62" y="450" width="14.62" height="11.4" fill="#ffcdb4" stroke="#000" stroke-width="0.75"/>
<rect x="285.25" y="450" width="14.62" height="11.4" fill="#ffaa82" stroke="#000" stroke-width="0.75"/>
<rect x="299.88" y="450" width="14.62" height="11.4" fill="#ff7d4b" stroke="#000" stroke-width="0.75"/>
<rect x="314.50" y="450" width="14.62" height="11.4" fill="#ff551e" stroke="#000" stroke-width="0.75"/>
<rect x="329.12" y="450" width="14.62" height="11.4" fill="#e63705" stroke="#000" stroke-width="0.75"/>
<rect x="343.75" y="450" width="14.62" height="11.4" fill="#b9230a" stroke="#000" stroke-width="0.75"/>
<rect x="358.38" y="450" width="14.62" height="11.4" fill="#8b0000" stroke="#000" stroke-width="0.75"/>
<text x="153.62" y="475.9" text-anchor="middle" class="t9">2</text>
<text x="182.88" y="475.9" text-anchor="middle" class="t9">8</text>
<text x="212.12" y="475.9" text-anchor="middle" class="t9">16</text>
<text x="241.38" y="475.9" text-anchor="middle" class="t9">24</text>
<text x="270.62" y="475.9" text-anchor="middle" class="t9">32</text>
<text x="299.88" y="475.9" text-anchor="middle" class="t9">40</text>
<text x="329.12" y="475.9" text-anchor="middle" class="t9">46</text>
<text x="358.38" y="475.9" text-anchor="middle" class="t9">50</text>
<rect x="651.00" y="450" width="14.62" height="11.4" fill="#00008b" stroke="#000" stroke-width="0.75"/>
<rect x="665.62" y="450" width="14.62" height="11.4" fill="#001bb9" stroke="#000" stroke-width="0.75"/>
<rect x="680.25" y="450" width="14.62" height="11.4" fill="#002de1" stroke="#000" stroke-width="0.75"/>
<rect x="694.88" y="450" width="14.62" height="11.4" fill="#1950ff" stroke="#000" stroke-width="0.75"/>
<rect x="709.50" y="450" width="14.62" height="11.4" fill="#4178ff" stroke="#000" stroke-width="0.75"/>
<rect x="724.12" y="450" width="14.62" height="11.4" fill="#82a5ff" stroke="#000" stroke-width="0.75"/>
<rect x="738.75" y="450" width="14.62" height="11.4" fill="#b4cdff" stroke="#000" stroke-width="0.75"/>
<rect x="753.38" y="450" width="14.62" height="11.4" fill="#d7e8ff" stroke="#000" stroke-width="0.75"/>
<rect x="768.00" y="450" width="14.62" height="11.4" fill="#ffe8d7" stroke="#000" stroke-width="0.75"/>
<rect x="782.62" y="450" width="14.62" height="11.4" fill="#ffcdb4" stroke="#000" stroke-width="0.75"/>
<rect x="797.25" y="450" width="14.62" height="11.4" fill="#ffaa82" stroke="#000" stroke-width="0.75"/>
<rect x="811.88" y="450" width="14.62" height="11.4" fill="#ff7d4b" stroke="#000" stroke-width="0.75"/>
<rect x="826.50" y="450" width="14.62" height="11.4" fill="#ff551e" stroke="#000" stroke-width="0.75"/>
<rect x="841.12" y="450" width="14.62" height="11.4" fill="#e63705" stroke="#000" stroke-width="0.75"/>
<rect x="855.75" y="450" width="14.62" height="11.4" fill="#b9230a" stroke="#000" stroke-width="0.75"/>
<rect x="870.38" y="450" width="14.62" height="11.4" fill="#8b0000" stroke="#000" stroke-width="0.75"/>
<text x="665.62" y="475.9" text-anchor="middle" class="t9">2</text>
<text x="694.88" y="475.9" text-anchor="middle" class="t9">8</text>
<text x="724.12" y="475.9" text-anchor="middle" class="t9">16</text>
<text x="753.38" y="475.9" text-anchor="middle" class="t9">24</text>
<text x="782.62" y="475.9" text-anchor="middle" class="t9">32</text>
<text x="811.88" y="475.9" text-anchor="middle" class="t9">40</text>
<text x="841.12" y="475.9" text-anchor="middle" class="t9">46</text>
<text x="870.38" y="475.9" text-anchor="middle" class="t9">50</text>
<rect x="690.2" y="607.80" width="23.6" height="12.04" fill="#8b0000" stroke="#000" stroke-width="0.75"/>
<rect x="690.2" y="619.84" width="23.6" height="12.04" fill="#b9230a" stroke="#000" stroke-width="0.75"/>
<rect x="690.2" y="631.89" width="23.6" height="12.04" fill="#e63705" stroke="#000" stroke-width="0.75"/>
<rect x="690.2" y="643.93" width="23.6" height="12.04" fill="#ff551e" stroke="#000" stroke-width="0.75"/>
<rect x="690.2" y="655.97" width="23.6" height="12.04" fill="#ff7d4b" stroke="#000" stroke-width="0.75"/>
<rect x="690.2" y="668.02" width="23.6" height="12.04" fill="#ffaa82" stroke="#000" stroke-width="0.75"/>
<rect x="690.2" y="680.06" width="23.6" height="12.04" fill="#ffcdb4" stroke="#000" stroke-width="0.75"/>
<rect x="690.2" y="692.11" width="23.6" height="12.04" fill="#ffe8d7" stroke="#000" stroke-width="0.75"/>
<rect x="690.2" y="704.15" width="23.6" height="12.04" fill="#d7e8ff" stroke="#000" stroke-width="0.75"/>
<rect x="690.2" y="716.19" width="23.6" height="12.04" fill="#b4cdff" stroke="#000" stroke-width="0.75"/>
<rect x="690.2" y="728.24" width="23.6" height="12.04" fill="#82a5ff" stroke="#000" stroke-width="0.75"/>
<rect x="690.2" y="740.28" width="23.6" height="12.04" fill="#4178ff" stroke="#000" stroke-width="0.75"/>
<rect x="690.2" y="752.32" width="23.6" height="12.04" fill="#1950ff" stroke="#000" stroke-width="0.75"/>
<rect x="690.2" y="764.37" width="23.6" height="12.04" fill="#002de1" stroke="#000" stroke-width="0.75"/>
<rect x="690.2" y="776.41" width="23.6" height="12.04" fill="#001bb9" stroke="#000" stroke-width="0.75"/>
<rect x="690.2" y="788.46" width="23.6" height="12.04" fill="#00008b" stroke="#000" stroke-width="0.75"/>
<text x="725.8" y="623.94" text-anchor="middle" class="t9">6</text>
<text x="725.8" y="635.99" text-anchor="middle" class="t9">5</text>
<text x="725.8" y="648.03" text-anchor="middle" class="t9">4</text>
<text x="725.8" y="660.07" text-anchor="middle" class="t9">3</text>
<text x="725.8" y="672.12" text-anchor="middle" class="t9">2</text>
<text x="725.8" y="684.16" text-anchor="middle" class="t9">1</text>
<text x="725.8" y="696.21" text-anchor="middle" class="t9">0.5</text>
<text x="725.8" y="708.25" text-anchor="middle" class="t9">0</text>
<text x="725.8" y="720.29" text-anchor="middle" class="t9">-0.5</text>
<text x="725.8" y="732.34" text-anchor="middle" class="t9">-1</text>
<text x="725.8" y="744.38" text-anchor="middle" class="t9">-2</text>
<text x="725.8" y="756.42" text-anchor="middle" class="t9">-3</text>
<text x="725.8" y="768.47" text-anchor="middle" class="t9">-4</text>
<text x="725.8" y="780.51" text-anchor="middle" class="t9">-5</text>
<text x="725.8" y="792.56" text-anchor="middle" class="t9">-6</text>
<text x="256" y="122.3" text-anchor="middle" class="t14">b.e21.B1850cmip6.f09_g17.DAMIP-ssp245-ghg.001 (yrs 2045-2069)</text>
<text x="768" y="124" text-anchor="middle" class="t15">JRA25</text>
<text x="512.3" y="542.8" text-anchor="middle" class="t15b">b.e21.B1850cmip6.f09_g17.DAMIP-ssp245-ghg.001 - JRA25</text>
<text x="135" y="146.3" class="t13">Precipitable water</text>
<text x="647" y="146.3" class="t13">Precipitable water</text>
<text x="377" y="148.8" text-anchor="end" class="t13">mm</text>
<text x="191" y="433.3" class="t10" style="white-space:pre">MIN =   0.34 MAX =  64.72</text>
<text x="703" y="433.3" class="t10" style="white-space:pre">MIN =   0.21 MAX =  49.53</text>
<text x="647.4" y="586.8" class="t10" style="white-space:pre">MIN =  -0.01 MAX =  17.51</text>
</svg>
</body></html>
